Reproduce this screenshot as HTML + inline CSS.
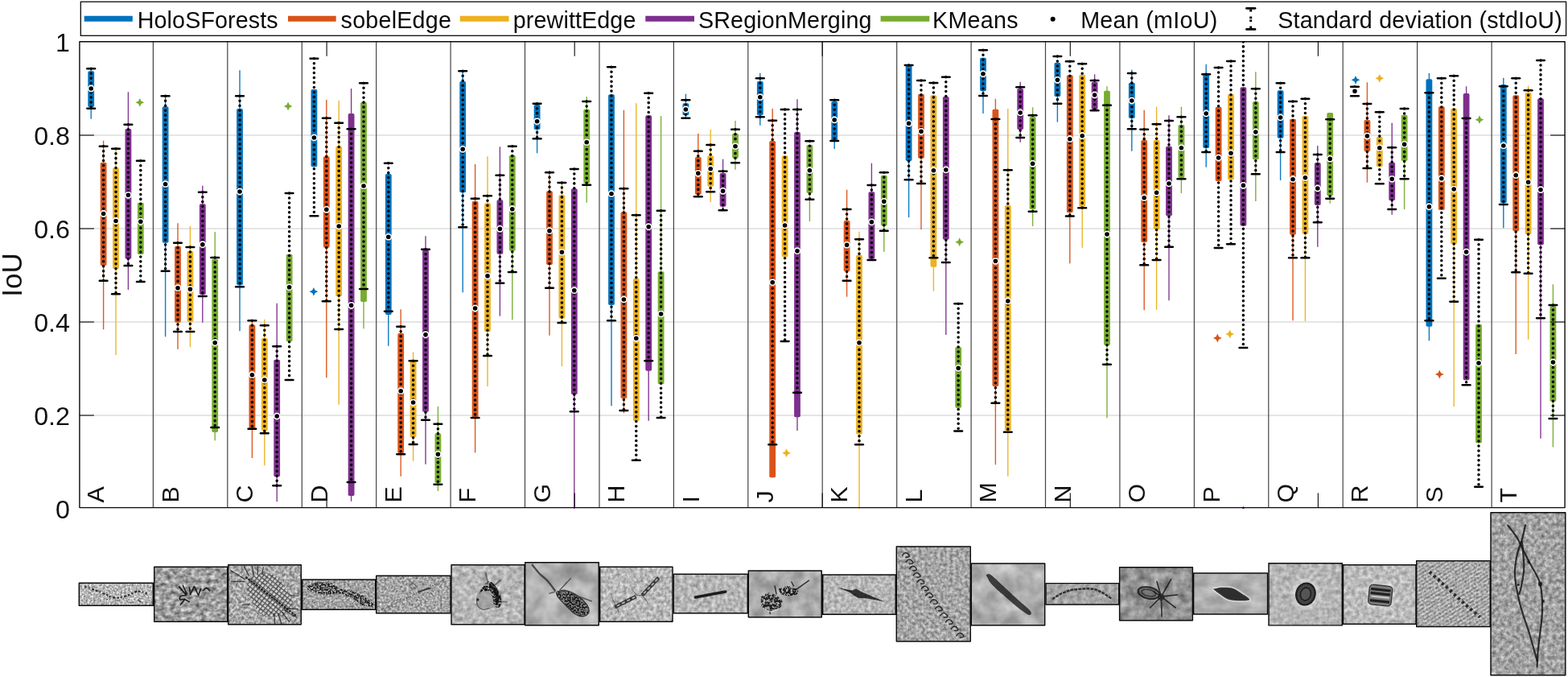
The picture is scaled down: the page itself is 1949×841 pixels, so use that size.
<!DOCTYPE html>
<html lang="en"><head><meta charset="utf-8"><title>IoU box plot</title>
<style>html,body{margin:0;padding:0;background:#fff}body{width:1949px;height:841px;overflow:hidden}svg{display:block}</style>
</head><body>
<svg width="1949" height="841" viewBox="0 0 1949 841" font-family='"Liberation Sans", sans-serif'>
<rect width="1949" height="841" fill="#fff"/>
<defs>
<filter id="nA" x="0" y="0" width="1" height="1" color-interpolation-filters="sRGB"><feTurbulence type="fractalNoise" baseFrequency="0.42 0.42" numOctaves="2" seed="3" result="t"/><feColorMatrix in="t" type="matrix" values="0.85 0 0 0 0.289  0.85 0 0 0 0.289  0.85 0 0 0 0.289  0 0 0 0 1"/></filter>
<filter id="nB" x="0" y="0" width="1" height="1" color-interpolation-filters="sRGB"><feTurbulence type="fractalNoise" baseFrequency="0.16 0.2" numOctaves="2" seed="11" result="t"/><feColorMatrix in="t" type="matrix" values="0.85 0 0 0 0.195  0.85 0 0 0 0.195  0.85 0 0 0 0.195  0 0 0 0 1"/></filter>
<filter id="nC" x="0" y="0" width="1" height="1" color-interpolation-filters="sRGB"><feTurbulence type="fractalNoise" baseFrequency="0.3 0.3" numOctaves="2" seed="5" result="t"/><feColorMatrix in="t" type="matrix" values="0.8 0 0 0 0.259  0.8 0 0 0 0.259  0.8 0 0 0 0.259  0 0 0 0 1"/></filter>
<filter id="nD" x="0" y="0" width="1" height="1" color-interpolation-filters="sRGB"><feTurbulence type="fractalNoise" baseFrequency="0.4 0.4" numOctaves="2" seed="8" result="t"/><feColorMatrix in="t" type="matrix" values="0.8 0 0 0 0.235  0.8 0 0 0 0.235  0.8 0 0 0 0.235  0 0 0 0 1"/></filter>
<filter id="nE" x="0" y="0" width="1" height="1" color-interpolation-filters="sRGB"><feTurbulence type="fractalNoise" baseFrequency="0.36 0.36" numOctaves="2" seed="21" result="t"/><feColorMatrix in="t" type="matrix" values="0.8 0 0 0 0.247  0.8 0 0 0 0.247  0.8 0 0 0 0.247  0 0 0 0 1"/></filter>
<filter id="nF" x="0" y="0" width="1" height="1" color-interpolation-filters="sRGB"><feTurbulence type="fractalNoise" baseFrequency="0.16 0.18" numOctaves="2" seed="2" result="t"/><feColorMatrix in="t" type="matrix" values="0.5 0 0 0 0.464  0.5 0 0 0 0.464  0.5 0 0 0 0.464  0 0 0 0 1"/></filter>
<filter id="nG" x="0" y="0" width="1" height="1" color-interpolation-filters="sRGB"><feTurbulence type="fractalNoise" baseFrequency="0.04 0.04" numOctaves="3" seed="7" result="t"/><feColorMatrix in="t" type="matrix" values="0.42 0 0 0 0.480  0.42 0 0 0 0.480  0.42 0 0 0 0.480  0 0 0 0 1"/></filter>
<filter id="nH" x="0" y="0" width="1" height="1" color-interpolation-filters="sRGB"><feTurbulence type="fractalNoise" baseFrequency="0.24 0.24" numOctaves="2" seed="9" result="t"/><feColorMatrix in="t" type="matrix" values="0.6 0 0 0 0.422  0.6 0 0 0 0.422  0.6 0 0 0 0.422  0 0 0 0 1"/></filter>
<filter id="nI" x="0" y="0" width="1" height="1" color-interpolation-filters="sRGB"><feTurbulence type="fractalNoise" baseFrequency="0.2 0.2" numOctaves="2" seed="13" result="t"/><feColorMatrix in="t" type="matrix" values="0.5 0 0 0 0.464  0.5 0 0 0 0.464  0.5 0 0 0 0.464  0 0 0 0 1"/></filter>
<filter id="nJ" x="0" y="0" width="1" height="1" color-interpolation-filters="sRGB"><feTurbulence type="fractalNoise" baseFrequency="0.06 0.06" numOctaves="3" seed="17" result="t"/><feColorMatrix in="t" type="matrix" values="0.38 0 0 0 0.485  0.38 0 0 0 0.485  0.38 0 0 0 0.485  0 0 0 0 1"/></filter>
<filter id="nK" x="0" y="0" width="1" height="1" color-interpolation-filters="sRGB"><feTurbulence type="fractalNoise" baseFrequency="0.24 0.24" numOctaves="2" seed="19" result="t"/><feColorMatrix in="t" type="matrix" values="0.5 0 0 0 0.464  0.5 0 0 0 0.464  0.5 0 0 0 0.464  0 0 0 0 1"/></filter>
<filter id="nL" x="0" y="0" width="1" height="1" color-interpolation-filters="sRGB"><feTurbulence type="fractalNoise" baseFrequency="0.26 0.26" numOctaves="2" seed="23" result="t"/><feColorMatrix in="t" type="matrix" values="0.62 0 0 0 0.337  0.62 0 0 0 0.337  0.62 0 0 0 0.337  0 0 0 0 1"/></filter>
<filter id="nM" x="0" y="0" width="1" height="1" color-interpolation-filters="sRGB"><feTurbulence type="fractalNoise" baseFrequency="0.05 0.05" numOctaves="3" seed="29" result="t"/><feColorMatrix in="t" type="matrix" values="0.4 0 0 0 0.490  0.4 0 0 0 0.490  0.4 0 0 0 0.490  0 0 0 0 1"/></filter>
<filter id="nN" x="0" y="0" width="1" height="1" color-interpolation-filters="sRGB"><feTurbulence type="fractalNoise" baseFrequency="0.18 0.18" numOctaves="2" seed="31" result="t"/><feColorMatrix in="t" type="matrix" values="0.42 0 0 0 0.437  0.42 0 0 0 0.437  0.42 0 0 0 0.437  0 0 0 0 1"/></filter>
<filter id="nO" x="0" y="0" width="1" height="1" color-interpolation-filters="sRGB"><feTurbulence type="fractalNoise" baseFrequency="0.09 0.09" numOctaves="3" seed="37" result="t"/><feColorMatrix in="t" type="matrix" values="0.5 0 0 0 0.323  0.5 0 0 0 0.323  0.5 0 0 0 0.323  0 0 0 0 1"/></filter>
<filter id="nP" x="0" y="0" width="1" height="1" color-interpolation-filters="sRGB"><feTurbulence type="fractalNoise" baseFrequency="0.04 0.07" numOctaves="3" seed="41" result="t"/><feColorMatrix in="t" type="matrix" values="0.32 0 0 0 0.515  0.32 0 0 0 0.515  0.32 0 0 0 0.515  0 0 0 0 1"/></filter>
<filter id="nQ" x="0" y="0" width="1" height="1" color-interpolation-filters="sRGB"><feTurbulence type="fractalNoise" baseFrequency="0.18 0.18" numOctaves="2" seed="43" result="t"/><feColorMatrix in="t" type="matrix" values="0.4 0 0 0 0.510  0.4 0 0 0 0.510  0.4 0 0 0 0.510  0 0 0 0 1"/></filter>
<filter id="nR" x="0" y="0" width="1" height="1" color-interpolation-filters="sRGB"><feTurbulence type="fractalNoise" baseFrequency="0.2 0.2" numOctaves="2" seed="47" result="t"/><feColorMatrix in="t" type="matrix" values="0.45 0 0 0 0.508  0.45 0 0 0 0.508  0.45 0 0 0 0.508  0 0 0 0 1"/></filter>
<filter id="nS" x="0" y="0" width="1" height="1" color-interpolation-filters="sRGB"><feTurbulence type="fractalNoise" baseFrequency="0.34 0.34" numOctaves="2" seed="53" result="t"/><feColorMatrix in="t" type="matrix" values="0.62 0 0 0 0.349  0.62 0 0 0 0.349  0.62 0 0 0 0.349  0 0 0 0 1"/></filter>
<filter id="nT" x="0" y="0" width="1" height="1" color-interpolation-filters="sRGB"><feTurbulence type="fractalNoise" baseFrequency="0.2 0.2" numOctaves="3" seed="59" result="t"/><feColorMatrix in="t" type="matrix" values="0.62 0 0 0 0.325  0.62 0 0 0 0.325  0.62 0 0 0 0.325  0 0 0 0 1"/></filter>
<filter id="spk" x="-0.1" y="-0.1" width="1.2" height="1.2" color-interpolation-filters="sRGB"><feTurbulence type="fractalNoise" baseFrequency="0.5" numOctaves="2" seed="4" result="t"/><feColorMatrix in="t" type="matrix" values="0 0 0 0 0  0 0 0 0 0  0 0 0 0 0  7 0 0 0 -3.0" result="m"/><feGaussianBlur in="SourceGraphic" stdDeviation="0.7" result="b"/><feComposite in="b" in2="m" operator="in"/></filter>
<filter id="spk2" x="-0.1" y="-0.1" width="1.2" height="1.2" color-interpolation-filters="sRGB"><feTurbulence type="fractalNoise" baseFrequency="0.35" numOctaves="2" seed="4" result="t"/><feColorMatrix in="t" type="matrix" values="0 0 0 0 0  0 0 0 0 0  0 0 0 0 0  6 0 0 0 -2.3" result="m"/><feGaussianBlur in="SourceGraphic" stdDeviation="0.5" result="b"/><feComposite in="b" in2="m" operator="in"/></filter>
<filter id="spk3" x="-0.1" y="-0.1" width="1.2" height="1.2" color-interpolation-filters="sRGB"><feTurbulence type="fractalNoise" baseFrequency="0.6" numOctaves="2" seed="4" result="t"/><feColorMatrix in="t" type="matrix" values="0 0 0 0 0  0 0 0 0 0  0 0 0 0 0  8 0 0 0 -3.7" result="m"/><feGaussianBlur in="SourceGraphic" stdDeviation="0.4" result="b"/><feComposite in="b" in2="m" operator="in"/></filter>
<filter id="bl0" x="-0.3" y="-0.3" width="1.6" height="1.6"><feGaussianBlur stdDeviation="0.35"/></filter>
<filter id="bl1" x="-0.3" y="-0.3" width="1.6" height="1.6"><feGaussianBlur stdDeviation="0.6"/></filter>
<filter id="bl2" x="-0.3" y="-0.3" width="1.6" height="1.6"><feGaussianBlur stdDeviation="1.5"/></filter>
<pattern id="stip" width="3.2" height="3.2" patternUnits="userSpaceOnUse" patternTransform="rotate(28)"><rect width="3.2" height="3.2" fill="#777"/><circle cx="1" cy="1" r="1.05" fill="#0a0a0a"/><circle cx="2.6" cy="2.4" r="0.7" fill="#ddd"/></pattern>
<pattern id="net" width="4.5" height="4.5" patternUnits="userSpaceOnUse" patternTransform="rotate(38)"><rect width="4.5" height="4.5" fill="#e6e6e6"/><path d="M0 0.7H4.5M0.7 0V4.5" stroke="#1c1c1c" stroke-width="1.35"/></pattern>
<pattern id="wave" width="4.2" height="4.2" patternUnits="userSpaceOnUse" patternTransform="rotate(-32)"><path d="M0 1H4.2" stroke="#fff" stroke-width="1.1" opacity="0.28"/><path d="M0 3.1H4.2" stroke="#000" stroke-width="1.1" opacity="0.16"/></pattern>
</defs>
<g stroke="#cccccc" stroke-width="1.2">
<line x1="98.9" y1="516.0" x2="1945.1" y2="516.0"/>
<line x1="98.9" y1="400.0" x2="1945.1" y2="400.0"/>
<line x1="98.9" y1="284.0" x2="1945.1" y2="284.0"/>
<line x1="98.9" y1="168.0" x2="1945.1" y2="168.0"/>
</g>
<g stroke="#444" stroke-width="1.2">
<line x1="190.4" y1="51.8" x2="190.4" y2="630.6"/>
<line x1="282.8" y1="51.8" x2="282.8" y2="630.6"/>
<line x1="375.3" y1="51.8" x2="375.3" y2="630.6"/>
<line x1="467.7" y1="51.8" x2="467.7" y2="630.6"/>
<line x1="560.1" y1="51.8" x2="560.1" y2="630.6"/>
<line x1="652.5" y1="51.8" x2="652.5" y2="630.6"/>
<line x1="745.0" y1="51.8" x2="745.0" y2="630.6"/>
<line x1="837.4" y1="51.8" x2="837.4" y2="630.6"/>
<line x1="929.8" y1="51.8" x2="929.8" y2="630.6"/>
<line x1="1022.2" y1="51.8" x2="1022.2" y2="630.6"/>
<line x1="1114.7" y1="51.8" x2="1114.7" y2="630.6"/>
<line x1="1207.1" y1="51.8" x2="1207.1" y2="630.6"/>
<line x1="1299.5" y1="51.8" x2="1299.5" y2="630.6"/>
<line x1="1391.9" y1="51.8" x2="1391.9" y2="630.6"/>
<line x1="1484.4" y1="51.8" x2="1484.4" y2="630.6"/>
<line x1="1576.8" y1="51.8" x2="1576.8" y2="630.6"/>
<line x1="1669.2" y1="51.8" x2="1669.2" y2="630.6"/>
<line x1="1761.6" y1="51.8" x2="1761.6" y2="630.6"/>
<line x1="1854.1" y1="51.8" x2="1854.1" y2="630.6"/>
</g>
<clipPath id="ax"><rect x="98.9" y="51.8" width="1846.1999999999998" height="580.3000000000001"/></clipPath>
<g clip-path="url(#ax)">
<g stroke-width="1.4" opacity="0.95"><line x1="113.2" y1="85.0" x2="113.2" y2="147.7" stroke="#0072BD"/><line x1="128.6" y1="174.7" x2="128.6" y2="409.3" stroke="#D95319"/><line x1="144.0" y1="183.0" x2="144.0" y2="441.0" stroke="#EDB120"/><line x1="159.4" y1="114.3" x2="159.4" y2="360.0" stroke="#7E2F8E"/><line x1="174.8" y1="251.7" x2="174.8" y2="316.0" stroke="#77AC30"/><line x1="205.6" y1="119.5" x2="205.6" y2="418.3" stroke="#0072BD"/><line x1="221.0" y1="277.3" x2="221.0" y2="433.7" stroke="#D95319"/><line x1="236.4" y1="281.0" x2="236.4" y2="431.3" stroke="#EDB120"/><line x1="251.8" y1="230.7" x2="251.8" y2="400.7" stroke="#7E2F8E"/><line x1="267.2" y1="288.0" x2="267.2" y2="547.3" stroke="#77AC30"/><line x1="298.0" y1="87.3" x2="298.0" y2="411.3" stroke="#0072BD"/><line x1="313.4" y1="398.0" x2="313.4" y2="569.0" stroke="#D95319"/><line x1="328.8" y1="396.7" x2="328.8" y2="578.3" stroke="#EDB120"/><line x1="344.2" y1="376.7" x2="344.2" y2="623.3" stroke="#7E2F8E"/><line x1="359.6" y1="315.7" x2="359.6" y2="424.3" stroke="#77AC30"/><line x1="390.4" y1="111.0" x2="390.4" y2="207.3" stroke="#0072BD"/><line x1="405.8" y1="124.0" x2="405.8" y2="469.3" stroke="#D95319"/><line x1="421.2" y1="125.0" x2="421.2" y2="502.7" stroke="#EDB120"/><line x1="436.6" y1="110.0" x2="436.6" y2="622.7" stroke="#7E2F8E"/><line x1="452.0" y1="126.7" x2="452.0" y2="408.3" stroke="#77AC30"/><line x1="482.8" y1="216.0" x2="482.8" y2="429.7" stroke="#0072BD"/><line x1="498.2" y1="384.3" x2="498.2" y2="591.7" stroke="#D95319"/><line x1="513.6" y1="437.3" x2="513.6" y2="572.7" stroke="#EDB120"/><line x1="529.0" y1="293.3" x2="529.0" y2="576.7" stroke="#7E2F8E"/><line x1="544.4" y1="505.0" x2="544.4" y2="610.0" stroke="#77AC30"/><line x1="575.2" y1="88.0" x2="575.2" y2="363.3" stroke="#0072BD"/><line x1="590.6" y1="204.0" x2="590.6" y2="562.3" stroke="#D95319"/><line x1="606.0" y1="194.3" x2="606.0" y2="480.0" stroke="#EDB120"/><line x1="621.4" y1="182.3" x2="621.4" y2="392.7" stroke="#7E2F8E"/><line x1="636.8" y1="192.7" x2="636.8" y2="397.3" stroke="#77AC30"/><line x1="667.6" y1="130.0" x2="667.6" y2="190.3" stroke="#0072BD"/><line x1="683.0" y1="212.0" x2="683.0" y2="416.7" stroke="#D95319"/><line x1="698.4" y1="227.0" x2="698.4" y2="455.0" stroke="#EDB120"/><line x1="713.8" y1="234.3" x2="713.8" y2="632.0" stroke="#7E2F8E"/><line x1="729.2" y1="120.0" x2="729.2" y2="251.7" stroke="#77AC30"/><line x1="760.0" y1="117.3" x2="760.0" y2="504.3" stroke="#0072BD"/><line x1="775.4" y1="136.7" x2="775.4" y2="513.3" stroke="#D95319"/><line x1="790.8" y1="128.3" x2="790.8" y2="523.0" stroke="#EDB120"/><line x1="806.2" y1="143.3" x2="806.2" y2="522.7" stroke="#7E2F8E"/><line x1="821.6" y1="144.0" x2="821.6" y2="477.3" stroke="#77AC30"/><line x1="852.4" y1="116.7" x2="852.4" y2="146.0" stroke="#0072BD"/><line x1="867.8" y1="166.0" x2="867.8" y2="244.0" stroke="#D95319"/><line x1="883.2" y1="161.0" x2="883.2" y2="251.0" stroke="#EDB120"/><line x1="898.6" y1="197.7" x2="898.6" y2="260.0" stroke="#7E2F8E"/><line x1="914.0" y1="150.0" x2="914.0" y2="210.7" stroke="#77AC30"/><line x1="944.8" y1="90.7" x2="944.8" y2="155.7" stroke="#0072BD"/><line x1="960.2" y1="135.0" x2="960.2" y2="593.3" stroke="#D95319"/><line x1="975.6" y1="193.3" x2="975.6" y2="319.3" stroke="#EDB120"/><line x1="991.0" y1="123.3" x2="991.0" y2="535.0" stroke="#7E2F8E"/><line x1="1006.4" y1="180.0" x2="1006.4" y2="275.0" stroke="#77AC30"/><line x1="1037.2" y1="126.0" x2="1037.2" y2="185.0" stroke="#0072BD"/><line x1="1052.6" y1="235.7" x2="1052.6" y2="368.7" stroke="#D95319"/><line x1="1068.0" y1="287.7" x2="1068.0" y2="633.0" stroke="#EDB120"/><line x1="1083.4" y1="202.7" x2="1083.4" y2="321.7" stroke="#7E2F8E"/><line x1="1098.8" y1="217.7" x2="1098.8" y2="312.7" stroke="#77AC30"/><line x1="1129.6" y1="81.0" x2="1129.6" y2="270.0" stroke="#0072BD"/><line x1="1145.0" y1="116.7" x2="1145.0" y2="285.0" stroke="#D95319"/><line x1="1160.4" y1="118.3" x2="1160.4" y2="361.7" stroke="#EDB120"/><line x1="1175.8" y1="120.0" x2="1175.8" y2="416.0" stroke="#7E2F8E"/><line x1="1191.2" y1="431.0" x2="1191.2" y2="506.7" stroke="#77AC30"/><line x1="1222.0" y1="71.7" x2="1222.0" y2="141.0" stroke="#0072BD"/><line x1="1237.4" y1="122.7" x2="1237.4" y2="577.3" stroke="#D95319"/><line x1="1252.8" y1="135.0" x2="1252.8" y2="591.7" stroke="#EDB120"/><line x1="1268.2" y1="101.7" x2="1268.2" y2="176.7" stroke="#7E2F8E"/><line x1="1283.6" y1="133.3" x2="1283.6" y2="281.0" stroke="#77AC30"/><line x1="1314.4" y1="77.7" x2="1314.4" y2="151.7" stroke="#0072BD"/><line x1="1329.8" y1="93.3" x2="1329.8" y2="327.3" stroke="#D95319"/><line x1="1345.2" y1="92.7" x2="1345.2" y2="307.7" stroke="#EDB120"/><line x1="1360.6" y1="92.3" x2="1360.6" y2="137.0" stroke="#7E2F8E"/><line x1="1376.0" y1="107.3" x2="1376.0" y2="519.3" stroke="#77AC30"/><line x1="1406.8" y1="86.7" x2="1406.8" y2="187.7" stroke="#0072BD"/><line x1="1422.2" y1="136.7" x2="1422.2" y2="385.3" stroke="#D95319"/><line x1="1437.6" y1="132.7" x2="1437.6" y2="385.0" stroke="#EDB120"/><line x1="1453.0" y1="143.3" x2="1453.0" y2="373.3" stroke="#7E2F8E"/><line x1="1468.4" y1="132.7" x2="1468.4" y2="240.0" stroke="#77AC30"/><line x1="1499.2" y1="80.0" x2="1499.2" y2="207.7" stroke="#0072BD"/><line x1="1514.6" y1="132.7" x2="1514.6" y2="225.0" stroke="#D95319"/><line x1="1530.0" y1="116.7" x2="1530.0" y2="223.3" stroke="#EDB120"/><line x1="1545.4" y1="108.3" x2="1545.4" y2="280.7" stroke="#7E2F8E"/><line x1="1560.8" y1="89.3" x2="1560.8" y2="250.0" stroke="#77AC30"/><line x1="1591.6" y1="112.3" x2="1591.6" y2="224.0" stroke="#0072BD"/><line x1="1607.0" y1="147.7" x2="1607.0" y2="398.3" stroke="#D95319"/><line x1="1622.4" y1="144.0" x2="1622.4" y2="399.0" stroke="#EDB120"/><line x1="1637.8" y1="181.0" x2="1637.8" y2="306.7" stroke="#7E2F8E"/><line x1="1653.2" y1="140.0" x2="1653.2" y2="252.7" stroke="#77AC30"/><line x1="1684.0" y1="111.0" x2="1684.0" y2="116.0" stroke="#0072BD"/><line x1="1699.4" y1="102.3" x2="1699.4" y2="226.7" stroke="#D95319"/><line x1="1714.8" y1="170.0" x2="1714.8" y2="207.3" stroke="#EDB120"/><line x1="1730.2" y1="152.7" x2="1730.2" y2="266.7" stroke="#7E2F8E"/><line x1="1745.6" y1="142.7" x2="1745.6" y2="260.0" stroke="#77AC30"/><line x1="1776.4" y1="91.0" x2="1776.4" y2="423.3" stroke="#0072BD"/><line x1="1791.8" y1="132.3" x2="1791.8" y2="261.0" stroke="#D95319"/><line x1="1807.2" y1="134.7" x2="1807.2" y2="505.0" stroke="#EDB120"/><line x1="1822.6" y1="107.3" x2="1822.6" y2="472.3" stroke="#7E2F8E"/><line x1="1838.0" y1="402.7" x2="1838.0" y2="550.5" stroke="#77AC30"/><line x1="1868.8" y1="96.7" x2="1868.8" y2="283.3" stroke="#0072BD"/><line x1="1884.2" y1="118.3" x2="1884.2" y2="440.0" stroke="#D95319"/><line x1="1899.6" y1="106.7" x2="1899.6" y2="421.7" stroke="#EDB120"/><line x1="1915.0" y1="122.3" x2="1915.0" y2="544.8" stroke="#7E2F8E"/><line x1="1930.4" y1="353.3" x2="1930.4" y2="555.5" stroke="#77AC30"/></g>
<g><rect x="109.3" y="88.3" width="7.8" height="44.7" rx="1.8" fill="#0072BD"/><rect x="124.7" y="201.7" width="7.8" height="128.3" rx="1.8" fill="#D95319"/><rect x="140.1" y="208.3" width="7.8" height="125.7" rx="1.8" fill="#EDB120"/><rect x="155.5" y="160.0" width="7.8" height="161.7" rx="1.8" fill="#7E2F8E"/><rect x="170.9" y="251.7" width="7.8" height="64.3" rx="1.8" fill="#77AC30"/><rect x="201.7" y="132.3" width="7.8" height="169.4" rx="1.8" fill="#0072BD"/><rect x="217.1" y="305.7" width="7.8" height="95.0" rx="1.8" fill="#D95319"/><rect x="232.5" y="311.7" width="7.8" height="88.3" rx="1.8" fill="#EDB120"/><rect x="247.9" y="253.3" width="7.8" height="112.7" rx="1.8" fill="#7E2F8E"/><rect x="263.3" y="321.7" width="7.8" height="215.3" rx="1.8" fill="#77AC30"/><rect x="294.1" y="135.0" width="7.8" height="219.3" rx="1.8" fill="#0072BD"/><rect x="309.5" y="403.3" width="7.8" height="129.2" rx="1.8" fill="#D95319"/><rect x="324.9" y="420.0" width="7.8" height="115.0" rx="1.8" fill="#EDB120"/><rect x="340.3" y="446.7" width="7.8" height="145.6" rx="1.8" fill="#7E2F8E"/><rect x="355.7" y="315.7" width="7.8" height="108.6" rx="1.8" fill="#77AC30"/><rect x="386.5" y="111.0" width="7.8" height="96.3" rx="1.8" fill="#0072BD"/><rect x="401.9" y="194.3" width="7.8" height="113.4" rx="1.8" fill="#D95319"/><rect x="417.3" y="181.7" width="7.8" height="186.6" rx="1.8" fill="#EDB120"/><rect x="432.7" y="141.0" width="7.8" height="475.0" rx="1.8" fill="#7E2F8E"/><rect x="448.1" y="126.7" width="7.8" height="248.3" rx="1.8" fill="#77AC30"/><rect x="478.9" y="216.0" width="7.8" height="175.0" rx="1.8" fill="#0072BD"/><rect x="494.3" y="414.0" width="7.8" height="149.3" rx="1.8" fill="#D95319"/><rect x="509.7" y="448.3" width="7.8" height="95.0" rx="1.8" fill="#EDB120"/><rect x="525.1" y="310.0" width="7.8" height="201.7" rx="1.8" fill="#7E2F8E"/><rect x="540.5" y="538.3" width="7.8" height="61.7" rx="1.8" fill="#77AC30"/><rect x="571.3" y="101.0" width="7.8" height="138.3" rx="1.8" fill="#0072BD"/><rect x="586.7" y="250.0" width="7.8" height="268.3" rx="1.8" fill="#D95319"/><rect x="602.1" y="252.3" width="7.8" height="160.0" rx="1.8" fill="#EDB120"/><rect x="617.5" y="248.3" width="7.8" height="67.4" rx="1.8" fill="#7E2F8E"/><rect x="632.9" y="192.7" width="7.8" height="119.0" rx="1.8" fill="#77AC30"/><rect x="663.7" y="130.0" width="7.8" height="31.0" rx="1.8" fill="#0072BD"/><rect x="679.1" y="237.3" width="7.8" height="91.7" rx="1.8" fill="#D95319"/><rect x="694.5" y="242.3" width="7.8" height="153.4" rx="1.8" fill="#EDB120"/><rect x="709.9" y="234.3" width="7.8" height="255.7" rx="1.8" fill="#7E2F8E"/><rect x="725.3" y="135.7" width="7.8" height="92.0" rx="1.8" fill="#77AC30"/><rect x="756.1" y="117.3" width="7.8" height="261.7" rx="1.8" fill="#0072BD"/><rect x="771.5" y="263.3" width="7.8" height="231.7" rx="1.8" fill="#D95319"/><rect x="786.9" y="346.0" width="7.8" height="177.0" rx="1.8" fill="#EDB120"/><rect x="802.3" y="143.3" width="7.8" height="317.4" rx="1.8" fill="#7E2F8E"/><rect x="817.7" y="337.3" width="7.8" height="140.0" rx="1.8" fill="#77AC30"/><rect x="848.5" y="128.3" width="7.8" height="15.0" rx="1.8" fill="#0072BD"/><rect x="863.9" y="195.0" width="7.8" height="46.7" rx="1.8" fill="#D95319"/><rect x="879.3" y="193.3" width="7.8" height="38.4" rx="1.8" fill="#EDB120"/><rect x="894.7" y="215.0" width="7.8" height="41.7" rx="1.8" fill="#7E2F8E"/><rect x="910.1" y="165.7" width="7.8" height="31.0" rx="1.8" fill="#77AC30"/><rect x="940.9" y="101.0" width="7.8" height="42.3" rx="1.8" fill="#0072BD"/><rect x="956.3" y="175.0" width="7.8" height="418.3" rx="1.8" fill="#D95319"/><rect x="971.7" y="193.3" width="7.8" height="126.0" rx="1.8" fill="#EDB120"/><rect x="987.1" y="164.0" width="7.8" height="354.3" rx="1.8" fill="#7E2F8E"/><rect x="1002.5" y="180.0" width="7.8" height="60.0" rx="1.8" fill="#77AC30"/><rect x="1033.3" y="126.0" width="7.8" height="49.0" rx="1.8" fill="#0072BD"/><rect x="1048.7" y="274.0" width="7.8" height="63.3" rx="1.8" fill="#D95319"/><rect x="1064.1" y="316.7" width="7.8" height="222.8" rx="1.8" fill="#EDB120"/><rect x="1079.5" y="238.3" width="7.8" height="83.4" rx="1.8" fill="#7E2F8E"/><rect x="1094.9" y="217.7" width="7.8" height="63.0" rx="1.8" fill="#77AC30"/><rect x="1125.7" y="81.0" width="7.8" height="119.0" rx="1.8" fill="#0072BD"/><rect x="1141.1" y="116.7" width="7.8" height="80.0" rx="1.8" fill="#D95319"/><rect x="1156.5" y="118.3" width="7.8" height="213.4" rx="1.8" fill="#EDB120"/><rect x="1171.9" y="120.0" width="7.8" height="177.7" rx="1.8" fill="#7E2F8E"/><rect x="1187.3" y="431.0" width="7.8" height="75.7" rx="1.8" fill="#77AC30"/><rect x="1218.1" y="71.7" width="7.8" height="41.6" rx="1.8" fill="#0072BD"/><rect x="1233.5" y="135.7" width="7.8" height="344.3" rx="1.8" fill="#D95319"/><rect x="1248.9" y="255.0" width="7.8" height="280.0" rx="1.8" fill="#EDB120"/><rect x="1264.3" y="110.0" width="7.8" height="51.0" rx="1.8" fill="#7E2F8E"/><rect x="1279.7" y="145.0" width="7.8" height="115.0" rx="1.8" fill="#77AC30"/><rect x="1310.5" y="77.7" width="7.8" height="42.3" rx="1.8" fill="#0072BD"/><rect x="1325.9" y="93.3" width="7.8" height="171.0" rx="1.8" fill="#D95319"/><rect x="1341.3" y="92.7" width="7.8" height="164.0" rx="1.8" fill="#EDB120"/><rect x="1356.7" y="101.7" width="7.8" height="34.3" rx="1.8" fill="#7E2F8E"/><rect x="1372.1" y="112.7" width="7.8" height="316.3" rx="1.8" fill="#77AC30"/><rect x="1402.9" y="102.7" width="7.8" height="44.3" rx="1.8" fill="#0072BD"/><rect x="1418.3" y="174.0" width="7.8" height="127.0" rx="1.8" fill="#D95319"/><rect x="1433.7" y="174.0" width="7.8" height="111.0" rx="1.8" fill="#EDB120"/><rect x="1449.1" y="181.7" width="7.8" height="86.6" rx="1.8" fill="#7E2F8E"/><rect x="1464.5" y="155.0" width="7.8" height="66.0" rx="1.8" fill="#77AC30"/><rect x="1495.3" y="91.7" width="7.8" height="92.3" rx="1.8" fill="#0072BD"/><rect x="1510.7" y="132.7" width="7.8" height="92.3" rx="1.8" fill="#D95319"/><rect x="1526.1" y="116.7" width="7.8" height="106.6" rx="1.8" fill="#EDB120"/><rect x="1541.5" y="108.3" width="7.8" height="172.4" rx="1.8" fill="#7E2F8E"/><rect x="1556.9" y="126.0" width="7.8" height="72.3" rx="1.8" fill="#77AC30"/><rect x="1587.7" y="112.3" width="7.8" height="59.4" rx="1.8" fill="#0072BD"/><rect x="1603.1" y="147.7" width="7.8" height="144.0" rx="1.8" fill="#D95319"/><rect x="1618.5" y="144.0" width="7.8" height="146.7" rx="1.8" fill="#EDB120"/><rect x="1633.9" y="202.0" width="7.8" height="53.0" rx="1.8" fill="#7E2F8E"/><rect x="1649.3" y="140.0" width="7.8" height="103.3" rx="1.8" fill="#77AC30"/><rect x="1680.1" y="111.0" width="7.8" height="5.0" rx="1.8" fill="#0072BD"/><rect x="1695.5" y="149.0" width="7.8" height="39.3" rx="1.8" fill="#D95319"/><rect x="1710.9" y="170.0" width="7.8" height="37.3" rx="1.8" fill="#EDB120"/><rect x="1726.3" y="201.7" width="7.8" height="47.3" rx="1.8" fill="#7E2F8E"/><rect x="1741.7" y="142.7" width="7.8" height="57.3" rx="1.8" fill="#77AC30"/><rect x="1772.5" y="98.3" width="7.8" height="307.4" rx="1.8" fill="#0072BD"/><rect x="1787.9" y="132.3" width="7.8" height="128.7" rx="1.8" fill="#D95319"/><rect x="1803.3" y="134.7" width="7.8" height="168.6" rx="1.8" fill="#EDB120"/><rect x="1818.7" y="116.0" width="7.8" height="356.3" rx="1.8" fill="#7E2F8E"/><rect x="1834.1" y="402.7" width="7.8" height="147.8" rx="1.8" fill="#77AC30"/><rect x="1864.9" y="105.0" width="7.8" height="147.3" rx="1.8" fill="#0072BD"/><rect x="1880.3" y="118.3" width="7.8" height="169.0" rx="1.8" fill="#D95319"/><rect x="1895.7" y="115.0" width="7.8" height="176.0" rx="1.8" fill="#EDB120"/><rect x="1911.1" y="122.3" width="7.8" height="182.0" rx="1.8" fill="#7E2F8E"/><rect x="1926.5" y="380.0" width="7.8" height="119.0" rx="1.8" fill="#77AC30"/></g>
<g stroke="#000" stroke-width="3.55" stroke-dasharray="0.01 5.95" stroke-linecap="round"><line x1="113.2" y1="85.3" x2="113.2" y2="134.7"/><line x1="128.6" y1="181.7" x2="128.6" y2="348.7"/><line x1="144.0" y1="184.7" x2="144.0" y2="365.3"/><line x1="159.4" y1="154.7" x2="159.4" y2="330.0"/><line x1="174.8" y1="199.7" x2="174.8" y2="350.0"/><line x1="205.6" y1="119.3" x2="205.6" y2="336.7"/><line x1="221.0" y1="301.7" x2="221.0" y2="412.0"/><line x1="236.4" y1="307.0" x2="236.4" y2="412.0"/><line x1="251.8" y1="238.7" x2="251.8" y2="368.0"/><line x1="267.2" y1="320.0" x2="267.2" y2="531.0"/><line x1="298.0" y1="119.3" x2="298.0" y2="356.3"/><line x1="313.4" y1="398.3" x2="313.4" y2="532.7"/><line x1="328.8" y1="404.3" x2="328.8" y2="538.3"/><line x1="344.2" y1="430.3" x2="344.2" y2="603.3"/><line x1="359.6" y1="240.0" x2="359.6" y2="472.0"/><line x1="390.4" y1="72.7" x2="390.4" y2="268.3"/><line x1="405.8" y1="146.7" x2="405.8" y2="374.3"/><line x1="421.2" y1="152.7" x2="421.2" y2="409.0"/><line x1="436.6" y1="160.3" x2="436.6" y2="599.0"/><line x1="452.0" y1="103.3" x2="452.0" y2="359.0"/><line x1="482.8" y1="202.7" x2="482.8" y2="386.7"/><line x1="498.2" y1="405.7" x2="498.2" y2="564.3"/><line x1="513.6" y1="448.3" x2="513.6" y2="552.0"/><line x1="529.0" y1="309.7" x2="529.0" y2="521.7"/><line x1="544.4" y1="526.7" x2="544.4" y2="601.7"/><line x1="575.2" y1="88.3" x2="575.2" y2="282.3"/><line x1="590.6" y1="246.7" x2="590.6" y2="519.0"/><line x1="606.0" y1="243.3" x2="606.0" y2="442.0"/><line x1="621.4" y1="217.7" x2="621.4" y2="351.7"/><line x1="636.8" y1="181.7" x2="636.8" y2="338.0"/><line x1="667.6" y1="128.7" x2="667.6" y2="172.3"/><line x1="683.0" y1="214.3" x2="683.0" y2="357.7"/><line x1="698.4" y1="227.0" x2="698.4" y2="401.0"/><line x1="713.8" y1="210.0" x2="713.8" y2="511.3"/><line x1="729.2" y1="126.0" x2="729.2" y2="229.7"/><line x1="760.0" y1="83.3" x2="760.0" y2="398.3"/><line x1="775.4" y1="234.3" x2="775.4" y2="510.0"/><line x1="790.8" y1="267.3" x2="790.8" y2="571.7"/><line x1="806.2" y1="115.7" x2="806.2" y2="448.3"/><line x1="821.6" y1="261.7" x2="821.6" y2="519.0"/><line x1="852.4" y1="124.3" x2="852.4" y2="146.7"/><line x1="867.8" y1="187.7" x2="867.8" y2="244.3"/><line x1="883.2" y1="180.0" x2="883.2" y2="238.3"/><line x1="898.6" y1="212.7" x2="898.6" y2="261.3"/><line x1="914.0" y1="160.7" x2="914.0" y2="202.3"/><line x1="944.8" y1="97.3" x2="944.8" y2="145.3"/><line x1="960.2" y1="149.7" x2="960.2" y2="552.3"/><line x1="975.6" y1="136.0" x2="975.6" y2="424.0"/><line x1="991.0" y1="136.0" x2="991.0" y2="487.7"/><line x1="1006.4" y1="175.3" x2="1006.4" y2="247.7"/><line x1="1037.2" y1="124.3" x2="1037.2" y2="175.0"/><line x1="1052.6" y1="260.0" x2="1052.6" y2="348.7"/><line x1="1068.0" y1="297.3" x2="1068.0" y2="552.3"/><line x1="1083.4" y1="230.0" x2="1083.4" y2="323.0"/><line x1="1098.8" y1="214.3" x2="1098.8" y2="286.7"/><line x1="1129.6" y1="81.0" x2="1129.6" y2="223.3"/><line x1="1145.0" y1="100.0" x2="1145.0" y2="228.0"/><line x1="1160.4" y1="103.0" x2="1160.4" y2="320.3"/><line x1="1175.8" y1="95.7" x2="1175.8" y2="326.0"/><line x1="1191.2" y1="377.3" x2="1191.2" y2="535.5"/><line x1="1222.0" y1="62.3" x2="1222.0" y2="119.0"/><line x1="1237.4" y1="148.0" x2="1237.4" y2="500.7"/><line x1="1252.8" y1="211.3" x2="1252.8" y2="536.7"/><line x1="1268.2" y1="108.3" x2="1268.2" y2="171.0"/><line x1="1283.6" y1="143.3" x2="1283.6" y2="262.7"/><line x1="1314.4" y1="70.0" x2="1314.4" y2="128.7"/><line x1="1329.8" y1="76.3" x2="1329.8" y2="268.5"/><line x1="1345.2" y1="79.3" x2="1345.2" y2="258.3"/><line x1="1360.6" y1="100.0" x2="1360.6" y2="137.3"/><line x1="1376.0" y1="130.7" x2="1376.0" y2="452.7"/><line x1="1406.8" y1="91.0" x2="1406.8" y2="160.3"/><line x1="1422.2" y1="160.7" x2="1422.2" y2="329.3"/><line x1="1437.6" y1="154.3" x2="1437.6" y2="323.0"/><line x1="1453.0" y1="150.0" x2="1453.0" y2="306.7"/><line x1="1468.4" y1="145.3" x2="1468.4" y2="222.3"/><line x1="1499.2" y1="92.3" x2="1499.2" y2="189.0"/><line x1="1514.6" y1="84.0" x2="1514.6" y2="308.0"/><line x1="1530.0" y1="76.0" x2="1530.0" y2="303.3"/><line x1="1545.4" y1="40.0" x2="1545.4" y2="432.0"/><line x1="1560.8" y1="110.3" x2="1560.8" y2="216.3"/><line x1="1591.6" y1="103.3" x2="1591.6" y2="189.0"/><line x1="1607.0" y1="126.0" x2="1607.0" y2="320.3"/><line x1="1622.4" y1="122.7" x2="1622.4" y2="320.3"/><line x1="1637.8" y1="192.0" x2="1637.8" y2="276.3"/><line x1="1653.2" y1="148.3" x2="1653.2" y2="246.7"/><line x1="1684.0" y1="107.7" x2="1684.0" y2="119.3"/><line x1="1699.4" y1="129.0" x2="1699.4" y2="209.0"/><line x1="1714.8" y1="139.3" x2="1714.8" y2="228.3"/><line x1="1730.2" y1="183.3" x2="1730.2" y2="260.0"/><line x1="1745.6" y1="135.0" x2="1745.6" y2="222.3"/><line x1="1776.4" y1="115.3" x2="1776.4" y2="398.3"/><line x1="1791.8" y1="97.3" x2="1791.8" y2="345.7"/><line x1="1807.2" y1="94.3" x2="1807.2" y2="374.7"/><line x1="1822.6" y1="147.0" x2="1822.6" y2="478.3"/><line x1="1838.0" y1="297.7" x2="1838.0" y2="604.8"/><line x1="1868.8" y1="107.3" x2="1868.8" y2="254.0"/><line x1="1884.2" y1="97.3" x2="1884.2" y2="338.3"/><line x1="1899.6" y1="112.3" x2="1899.6" y2="339.7"/><line x1="1915.0" y1="75.0" x2="1915.0" y2="395.3"/><line x1="1930.4" y1="379.0" x2="1930.4" y2="520.0"/></g>
<g stroke="#000" stroke-width="2.6" stroke-linecap="round"><line x1="108.4" y1="85.3" x2="118.0" y2="85.3"/><line x1="108.4" y1="134.7" x2="118.0" y2="134.7"/><line x1="123.8" y1="181.7" x2="133.4" y2="181.7"/><line x1="123.8" y1="348.7" x2="133.4" y2="348.7"/><line x1="139.2" y1="184.7" x2="148.8" y2="184.7"/><line x1="139.2" y1="365.3" x2="148.8" y2="365.3"/><line x1="154.6" y1="154.7" x2="164.2" y2="154.7"/><line x1="154.6" y1="330.0" x2="164.2" y2="330.0"/><line x1="170.0" y1="199.7" x2="179.6" y2="199.7"/><line x1="170.0" y1="350.0" x2="179.6" y2="350.0"/><line x1="200.8" y1="119.3" x2="210.4" y2="119.3"/><line x1="200.8" y1="336.7" x2="210.4" y2="336.7"/><line x1="216.2" y1="301.7" x2="225.8" y2="301.7"/><line x1="216.2" y1="412.0" x2="225.8" y2="412.0"/><line x1="231.6" y1="307.0" x2="241.2" y2="307.0"/><line x1="231.6" y1="412.0" x2="241.2" y2="412.0"/><line x1="247.0" y1="238.7" x2="256.6" y2="238.7"/><line x1="247.0" y1="368.0" x2="256.6" y2="368.0"/><line x1="262.4" y1="320.0" x2="272.0" y2="320.0"/><line x1="262.4" y1="531.0" x2="272.0" y2="531.0"/><line x1="293.2" y1="119.3" x2="302.8" y2="119.3"/><line x1="293.2" y1="356.3" x2="302.8" y2="356.3"/><line x1="308.6" y1="398.3" x2="318.2" y2="398.3"/><line x1="308.6" y1="532.7" x2="318.2" y2="532.7"/><line x1="324.0" y1="404.3" x2="333.6" y2="404.3"/><line x1="324.0" y1="538.3" x2="333.6" y2="538.3"/><line x1="339.4" y1="430.3" x2="349.0" y2="430.3"/><line x1="339.4" y1="603.3" x2="349.0" y2="603.3"/><line x1="354.8" y1="240.0" x2="364.4" y2="240.0"/><line x1="354.8" y1="472.0" x2="364.4" y2="472.0"/><line x1="385.6" y1="72.7" x2="395.2" y2="72.7"/><line x1="385.6" y1="268.3" x2="395.2" y2="268.3"/><line x1="401.0" y1="146.7" x2="410.6" y2="146.7"/><line x1="401.0" y1="374.3" x2="410.6" y2="374.3"/><line x1="416.4" y1="152.7" x2="426.0" y2="152.7"/><line x1="416.4" y1="409.0" x2="426.0" y2="409.0"/><line x1="431.8" y1="160.3" x2="441.4" y2="160.3"/><line x1="431.8" y1="599.0" x2="441.4" y2="599.0"/><line x1="447.2" y1="103.3" x2="456.8" y2="103.3"/><line x1="447.2" y1="359.0" x2="456.8" y2="359.0"/><line x1="478.0" y1="202.7" x2="487.6" y2="202.7"/><line x1="478.0" y1="386.7" x2="487.6" y2="386.7"/><line x1="493.4" y1="405.7" x2="503.0" y2="405.7"/><line x1="493.4" y1="564.3" x2="503.0" y2="564.3"/><line x1="508.8" y1="448.3" x2="518.4" y2="448.3"/><line x1="508.8" y1="552.0" x2="518.4" y2="552.0"/><line x1="524.2" y1="309.7" x2="533.8" y2="309.7"/><line x1="524.2" y1="521.7" x2="533.8" y2="521.7"/><line x1="539.6" y1="526.7" x2="549.2" y2="526.7"/><line x1="539.6" y1="601.7" x2="549.2" y2="601.7"/><line x1="570.4" y1="88.3" x2="580.0" y2="88.3"/><line x1="570.4" y1="282.3" x2="580.0" y2="282.3"/><line x1="585.8" y1="246.7" x2="595.4" y2="246.7"/><line x1="585.8" y1="519.0" x2="595.4" y2="519.0"/><line x1="601.2" y1="243.3" x2="610.8" y2="243.3"/><line x1="601.2" y1="442.0" x2="610.8" y2="442.0"/><line x1="616.6" y1="217.7" x2="626.2" y2="217.7"/><line x1="616.6" y1="351.7" x2="626.2" y2="351.7"/><line x1="632.0" y1="181.7" x2="641.6" y2="181.7"/><line x1="632.0" y1="338.0" x2="641.6" y2="338.0"/><line x1="662.8" y1="128.7" x2="672.4" y2="128.7"/><line x1="662.8" y1="172.3" x2="672.4" y2="172.3"/><line x1="678.2" y1="214.3" x2="687.8" y2="214.3"/><line x1="678.2" y1="357.7" x2="687.8" y2="357.7"/><line x1="693.6" y1="227.0" x2="703.2" y2="227.0"/><line x1="693.6" y1="401.0" x2="703.2" y2="401.0"/><line x1="709.0" y1="210.0" x2="718.6" y2="210.0"/><line x1="709.0" y1="511.3" x2="718.6" y2="511.3"/><line x1="724.4" y1="126.0" x2="734.0" y2="126.0"/><line x1="724.4" y1="229.7" x2="734.0" y2="229.7"/><line x1="755.2" y1="83.3" x2="764.8" y2="83.3"/><line x1="755.2" y1="398.3" x2="764.8" y2="398.3"/><line x1="770.6" y1="234.3" x2="780.2" y2="234.3"/><line x1="770.6" y1="510.0" x2="780.2" y2="510.0"/><line x1="786.0" y1="267.3" x2="795.6" y2="267.3"/><line x1="786.0" y1="571.7" x2="795.6" y2="571.7"/><line x1="801.4" y1="115.7" x2="811.0" y2="115.7"/><line x1="801.4" y1="448.3" x2="811.0" y2="448.3"/><line x1="816.8" y1="261.7" x2="826.4" y2="261.7"/><line x1="816.8" y1="519.0" x2="826.4" y2="519.0"/><line x1="847.6" y1="124.3" x2="857.2" y2="124.3"/><line x1="847.6" y1="146.7" x2="857.2" y2="146.7"/><line x1="863.0" y1="187.7" x2="872.6" y2="187.7"/><line x1="863.0" y1="244.3" x2="872.6" y2="244.3"/><line x1="878.4" y1="180.0" x2="888.0" y2="180.0"/><line x1="878.4" y1="238.3" x2="888.0" y2="238.3"/><line x1="893.8" y1="212.7" x2="903.4" y2="212.7"/><line x1="893.8" y1="261.3" x2="903.4" y2="261.3"/><line x1="909.2" y1="160.7" x2="918.8" y2="160.7"/><line x1="909.2" y1="202.3" x2="918.8" y2="202.3"/><line x1="940.0" y1="97.3" x2="949.6" y2="97.3"/><line x1="940.0" y1="145.3" x2="949.6" y2="145.3"/><line x1="955.4" y1="149.7" x2="965.0" y2="149.7"/><line x1="955.4" y1="552.3" x2="965.0" y2="552.3"/><line x1="970.8" y1="136.0" x2="980.4" y2="136.0"/><line x1="970.8" y1="424.0" x2="980.4" y2="424.0"/><line x1="986.2" y1="136.0" x2="995.8" y2="136.0"/><line x1="986.2" y1="487.7" x2="995.8" y2="487.7"/><line x1="1001.6" y1="175.3" x2="1011.2" y2="175.3"/><line x1="1001.6" y1="247.7" x2="1011.2" y2="247.7"/><line x1="1032.4" y1="124.3" x2="1042.0" y2="124.3"/><line x1="1032.4" y1="175.0" x2="1042.0" y2="175.0"/><line x1="1047.8" y1="260.0" x2="1057.4" y2="260.0"/><line x1="1047.8" y1="348.7" x2="1057.4" y2="348.7"/><line x1="1063.2" y1="297.3" x2="1072.8" y2="297.3"/><line x1="1063.2" y1="552.3" x2="1072.8" y2="552.3"/><line x1="1078.6" y1="230.0" x2="1088.2" y2="230.0"/><line x1="1078.6" y1="323.0" x2="1088.2" y2="323.0"/><line x1="1094.0" y1="214.3" x2="1103.6" y2="214.3"/><line x1="1094.0" y1="286.7" x2="1103.6" y2="286.7"/><line x1="1124.8" y1="81.0" x2="1134.4" y2="81.0"/><line x1="1124.8" y1="223.3" x2="1134.4" y2="223.3"/><line x1="1140.2" y1="100.0" x2="1149.8" y2="100.0"/><line x1="1140.2" y1="228.0" x2="1149.8" y2="228.0"/><line x1="1155.6" y1="103.0" x2="1165.2" y2="103.0"/><line x1="1155.6" y1="320.3" x2="1165.2" y2="320.3"/><line x1="1171.0" y1="95.7" x2="1180.6" y2="95.7"/><line x1="1171.0" y1="326.0" x2="1180.6" y2="326.0"/><line x1="1186.4" y1="377.3" x2="1196.0" y2="377.3"/><line x1="1186.4" y1="535.5" x2="1196.0" y2="535.5"/><line x1="1217.2" y1="62.3" x2="1226.8" y2="62.3"/><line x1="1217.2" y1="119.0" x2="1226.8" y2="119.0"/><line x1="1232.6" y1="148.0" x2="1242.2" y2="148.0"/><line x1="1232.6" y1="500.7" x2="1242.2" y2="500.7"/><line x1="1248.0" y1="211.3" x2="1257.6" y2="211.3"/><line x1="1248.0" y1="536.7" x2="1257.6" y2="536.7"/><line x1="1263.4" y1="108.3" x2="1273.0" y2="108.3"/><line x1="1263.4" y1="171.0" x2="1273.0" y2="171.0"/><line x1="1278.8" y1="143.3" x2="1288.4" y2="143.3"/><line x1="1278.8" y1="262.7" x2="1288.4" y2="262.7"/><line x1="1309.6" y1="70.0" x2="1319.2" y2="70.0"/><line x1="1309.6" y1="128.7" x2="1319.2" y2="128.7"/><line x1="1325.0" y1="76.3" x2="1334.6" y2="76.3"/><line x1="1325.0" y1="268.5" x2="1334.6" y2="268.5"/><line x1="1340.4" y1="79.3" x2="1350.0" y2="79.3"/><line x1="1340.4" y1="258.3" x2="1350.0" y2="258.3"/><line x1="1355.8" y1="100.0" x2="1365.4" y2="100.0"/><line x1="1355.8" y1="137.3" x2="1365.4" y2="137.3"/><line x1="1371.2" y1="130.7" x2="1380.8" y2="130.7"/><line x1="1371.2" y1="452.7" x2="1380.8" y2="452.7"/><line x1="1402.0" y1="91.0" x2="1411.6" y2="91.0"/><line x1="1402.0" y1="160.3" x2="1411.6" y2="160.3"/><line x1="1417.4" y1="160.7" x2="1427.0" y2="160.7"/><line x1="1417.4" y1="329.3" x2="1427.0" y2="329.3"/><line x1="1432.8" y1="154.3" x2="1442.4" y2="154.3"/><line x1="1432.8" y1="323.0" x2="1442.4" y2="323.0"/><line x1="1448.2" y1="150.0" x2="1457.8" y2="150.0"/><line x1="1448.2" y1="306.7" x2="1457.8" y2="306.7"/><line x1="1463.6" y1="145.3" x2="1473.2" y2="145.3"/><line x1="1463.6" y1="222.3" x2="1473.2" y2="222.3"/><line x1="1494.4" y1="92.3" x2="1504.0" y2="92.3"/><line x1="1494.4" y1="189.0" x2="1504.0" y2="189.0"/><line x1="1509.8" y1="84.0" x2="1519.4" y2="84.0"/><line x1="1509.8" y1="308.0" x2="1519.4" y2="308.0"/><line x1="1525.2" y1="76.0" x2="1534.8" y2="76.0"/><line x1="1525.2" y1="303.3" x2="1534.8" y2="303.3"/><line x1="1540.6" y1="432.0" x2="1550.2" y2="432.0"/><line x1="1556.0" y1="110.3" x2="1565.6" y2="110.3"/><line x1="1556.0" y1="216.3" x2="1565.6" y2="216.3"/><line x1="1586.8" y1="103.3" x2="1596.4" y2="103.3"/><line x1="1586.8" y1="189.0" x2="1596.4" y2="189.0"/><line x1="1602.2" y1="126.0" x2="1611.8" y2="126.0"/><line x1="1602.2" y1="320.3" x2="1611.8" y2="320.3"/><line x1="1617.6" y1="122.7" x2="1627.2" y2="122.7"/><line x1="1617.6" y1="320.3" x2="1627.2" y2="320.3"/><line x1="1633.0" y1="192.0" x2="1642.6" y2="192.0"/><line x1="1633.0" y1="276.3" x2="1642.6" y2="276.3"/><line x1="1648.4" y1="148.3" x2="1658.0" y2="148.3"/><line x1="1648.4" y1="246.7" x2="1658.0" y2="246.7"/><line x1="1679.2" y1="107.7" x2="1688.8" y2="107.7"/><line x1="1679.2" y1="119.3" x2="1688.8" y2="119.3"/><line x1="1694.6" y1="129.0" x2="1704.2" y2="129.0"/><line x1="1694.6" y1="209.0" x2="1704.2" y2="209.0"/><line x1="1710.0" y1="139.3" x2="1719.6" y2="139.3"/><line x1="1710.0" y1="228.3" x2="1719.6" y2="228.3"/><line x1="1725.4" y1="183.3" x2="1735.0" y2="183.3"/><line x1="1725.4" y1="260.0" x2="1735.0" y2="260.0"/><line x1="1740.8" y1="135.0" x2="1750.4" y2="135.0"/><line x1="1740.8" y1="222.3" x2="1750.4" y2="222.3"/><line x1="1771.6" y1="115.3" x2="1781.2" y2="115.3"/><line x1="1771.6" y1="398.3" x2="1781.2" y2="398.3"/><line x1="1787.0" y1="97.3" x2="1796.6" y2="97.3"/><line x1="1787.0" y1="345.7" x2="1796.6" y2="345.7"/><line x1="1802.4" y1="94.3" x2="1812.0" y2="94.3"/><line x1="1802.4" y1="374.7" x2="1812.0" y2="374.7"/><line x1="1817.8" y1="147.0" x2="1827.4" y2="147.0"/><line x1="1817.8" y1="478.3" x2="1827.4" y2="478.3"/><line x1="1833.2" y1="297.7" x2="1842.8" y2="297.7"/><line x1="1833.2" y1="604.8" x2="1842.8" y2="604.8"/><line x1="1864.0" y1="107.3" x2="1873.6" y2="107.3"/><line x1="1864.0" y1="254.0" x2="1873.6" y2="254.0"/><line x1="1879.4" y1="97.3" x2="1889.0" y2="97.3"/><line x1="1879.4" y1="338.3" x2="1889.0" y2="338.3"/><line x1="1894.8" y1="112.3" x2="1904.4" y2="112.3"/><line x1="1894.8" y1="339.7" x2="1904.4" y2="339.7"/><line x1="1910.2" y1="75.0" x2="1919.8" y2="75.0"/><line x1="1910.2" y1="395.3" x2="1919.8" y2="395.3"/><line x1="1925.6" y1="379.0" x2="1935.2" y2="379.0"/><line x1="1925.6" y1="520.0" x2="1935.2" y2="520.0"/></g>
<g fill="#000" stroke="#fff" stroke-width="1.6"><circle cx="113.2" cy="110.0" r="3.6"/><circle cx="128.6" cy="265.5" r="3.6"/><circle cx="144.0" cy="274.5" r="3.6"/><circle cx="159.4" cy="242.3" r="3.6"/><circle cx="174.8" cy="275.2" r="3.6"/><circle cx="205.6" cy="228.7" r="3.6"/><circle cx="221.0" cy="357.7" r="3.6"/><circle cx="236.4" cy="359.3" r="3.6"/><circle cx="251.8" cy="303.7" r="3.6"/><circle cx="267.2" cy="425.7" r="3.6"/><circle cx="298.0" cy="238.0" r="3.6"/><circle cx="313.4" cy="465.7" r="3.6"/><circle cx="328.8" cy="472.0" r="3.6"/><circle cx="344.2" cy="517.0" r="3.6"/><circle cx="359.6" cy="356.7" r="3.6"/><circle cx="390.4" cy="171.0" r="3.6"/><circle cx="405.8" cy="260.3" r="3.6"/><circle cx="421.2" cy="281.0" r="3.6"/><circle cx="436.6" cy="379.3" r="3.6"/><circle cx="452.0" cy="231.0" r="3.6"/><circle cx="482.8" cy="294.3" r="3.6"/><circle cx="498.2" cy="485.7" r="3.6"/><circle cx="513.6" cy="500.0" r="3.6"/><circle cx="529.0" cy="415.7" r="3.6"/><circle cx="544.4" cy="564.3" r="3.6"/><circle cx="575.2" cy="185.3" r="3.6"/><circle cx="590.6" cy="383.0" r="3.6"/><circle cx="606.0" cy="342.7" r="3.6"/><circle cx="621.4" cy="284.3" r="3.6"/><circle cx="636.8" cy="259.7" r="3.6"/><circle cx="667.6" cy="150.7" r="3.6"/><circle cx="683.0" cy="286.7" r="3.6"/><circle cx="698.4" cy="313.3" r="3.6"/><circle cx="713.8" cy="360.7" r="3.6"/><circle cx="729.2" cy="176.7" r="3.6"/><circle cx="760.0" cy="240.7" r="3.6"/><circle cx="775.4" cy="372.0" r="3.6"/><circle cx="790.8" cy="420.3" r="3.6"/><circle cx="806.2" cy="281.7" r="3.6"/><circle cx="821.6" cy="390.0" r="3.6"/><circle cx="852.4" cy="136.0" r="3.6"/><circle cx="867.8" cy="215.3" r="3.6"/><circle cx="883.2" cy="209.7" r="3.6"/><circle cx="898.6" cy="237.3" r="3.6"/><circle cx="914.0" cy="181.7" r="3.6"/><circle cx="944.8" cy="120.7" r="3.6"/><circle cx="960.2" cy="350.7" r="3.6"/><circle cx="975.6" cy="280.0" r="3.6"/><circle cx="991.0" cy="311.7" r="3.6"/><circle cx="1006.4" cy="211.7" r="3.6"/><circle cx="1037.2" cy="149.0" r="3.6"/><circle cx="1052.6" cy="304.3" r="3.6"/><circle cx="1068.0" cy="425.7" r="3.6"/><circle cx="1083.4" cy="275.7" r="3.6"/><circle cx="1098.8" cy="250.3" r="3.6"/><circle cx="1129.6" cy="153.3" r="3.6"/><circle cx="1145.0" cy="163.3" r="3.6"/><circle cx="1160.4" cy="211.7" r="3.6"/><circle cx="1175.8" cy="211.0" r="3.6"/><circle cx="1191.2" cy="457.3" r="3.6"/><circle cx="1222.0" cy="91.7" r="3.6"/><circle cx="1237.4" cy="324.3" r="3.6"/><circle cx="1252.8" cy="374.0" r="3.6"/><circle cx="1268.2" cy="140.0" r="3.6"/><circle cx="1283.6" cy="203.3" r="3.6"/><circle cx="1314.4" cy="99.3" r="3.6"/><circle cx="1329.8" cy="172.7" r="3.6"/><circle cx="1345.2" cy="168.7" r="3.6"/><circle cx="1360.6" cy="118.0" r="3.6"/><circle cx="1376.0" cy="291.0" r="3.6"/><circle cx="1406.8" cy="125.0" r="3.6"/><circle cx="1422.2" cy="245.7" r="3.6"/><circle cx="1437.6" cy="239.3" r="3.6"/><circle cx="1453.0" cy="228.0" r="3.6"/><circle cx="1468.4" cy="183.7" r="3.6"/><circle cx="1499.2" cy="141.0" r="3.6"/><circle cx="1514.6" cy="196.0" r="3.6"/><circle cx="1530.0" cy="190.3" r="3.6"/><circle cx="1545.4" cy="230.3" r="3.6"/><circle cx="1560.8" cy="164.0" r="3.6"/><circle cx="1591.6" cy="146.0" r="3.6"/><circle cx="1607.0" cy="222.7" r="3.6"/><circle cx="1622.4" cy="220.7" r="3.6"/><circle cx="1637.8" cy="234.0" r="3.6"/><circle cx="1653.2" cy="197.3" r="3.6"/><circle cx="1684.0" cy="113.3" r="3.6"/><circle cx="1699.4" cy="169.0" r="3.6"/><circle cx="1714.8" cy="183.7" r="3.6"/><circle cx="1730.2" cy="222.3" r="3.6"/><circle cx="1745.6" cy="179.3" r="3.6"/><circle cx="1776.4" cy="256.7" r="3.6"/><circle cx="1791.8" cy="221.7" r="3.6"/><circle cx="1807.2" cy="235.0" r="3.6"/><circle cx="1822.6" cy="313.0" r="3.6"/><circle cx="1838.0" cy="451.0" r="3.6"/><circle cx="1868.8" cy="181.0" r="3.6"/><circle cx="1884.2" cy="217.7" r="3.6"/><circle cx="1899.6" cy="226.3" r="3.6"/><circle cx="1915.0" cy="235.7" r="3.6"/><circle cx="1930.4" cy="450.0" r="3.6"/></g>
<g><path fill="#77AC30" d="M173.8 121.9 L175.5 125.6 L179.2 127.3 L175.5 129.0 L173.8 132.7 L172.1 129.0 L168.4 127.3 L172.1 125.6 Z"/><path fill="#77AC30" d="M358.1 126.6 L359.8 130.3 L363.5 132.0 L359.8 133.7 L358.1 137.4 L356.4 133.7 L352.7 132.0 L356.4 130.3 Z"/><path fill="#0072BD" d="M389.9 356.9 L391.6 360.6 L395.3 362.3 L391.6 364.0 L389.9 367.7 L388.2 364.0 L384.5 362.3 L388.2 360.6 Z"/><path fill="#EDB120" d="M977.6 557.3 L979.3 561.0 L983.0 562.7 L979.3 564.4 L977.6 568.1 L975.9 564.4 L972.2 562.7 L975.9 561.0 Z"/><path fill="#77AC30" d="M1192.7 295.3 L1194.4 299.0 L1198.1 300.7 L1194.4 302.4 L1192.7 306.1 L1191.0 302.4 L1187.3 300.7 L1191.0 299.0 Z"/><path fill="#D95319" d="M1513.3 414.6 L1515.0 418.3 L1518.7 420.0 L1515.0 421.7 L1513.3 425.4 L1511.6 421.7 L1507.9 420.0 L1511.6 418.3 Z"/><path fill="#EDB120" d="M1528.7 409.6 L1530.4 413.3 L1534.1 415.0 L1530.4 416.7 L1528.7 420.4 L1527.0 416.7 L1523.3 415.0 L1527.0 413.3 Z"/><path fill="#7E2F8E" d="M1545.4 628.6 L1547.1 632.3 L1550.8 634.0 L1547.1 635.7 L1545.4 639.4 L1543.7 635.7 L1540.0 634.0 L1543.7 632.3 Z"/><path fill="#0072BD" d="M1685.0 93.9 L1686.7 97.6 L1690.4 99.3 L1686.7 101.0 L1685.0 104.7 L1683.3 101.0 L1679.6 99.3 L1683.3 97.6 Z"/><path fill="#EDB120" d="M1714.8 91.9 L1716.5 95.6 L1720.2 97.3 L1716.5 99.0 L1714.8 102.7 L1713.1 99.0 L1709.4 97.3 L1713.1 95.6 Z"/><path fill="#D95319" d="M1789.3 459.6 L1791.0 463.3 L1794.7 465.0 L1791.0 466.7 L1789.3 470.4 L1787.6 466.7 L1783.9 465.0 L1787.6 463.3 Z"/><path fill="#77AC30" d="M1839.0 143.3 L1840.7 147.0 L1844.4 148.7 L1840.7 150.4 L1839.0 154.1 L1837.3 150.4 L1833.6 148.7 L1837.3 147.0 Z"/></g>
</g>
<rect x="98.9" y="51.8" width="1846.1999999999998" height="578.8000000000001" fill="none" stroke="#0a0a0a" stroke-width="1.4" stroke-linejoin="round"/>
<g stroke="#0a0a0a" stroke-width="1.1">
<line x1="98.9" y1="516.0" x2="116.9" y2="516.0"/>
<line x1="1945.1" y1="516.0" x2="1927.1" y2="516.0"/>
<line x1="98.9" y1="400.0" x2="116.9" y2="400.0"/>
<line x1="1945.1" y1="400.0" x2="1927.1" y2="400.0"/>
<line x1="98.9" y1="284.0" x2="116.9" y2="284.0"/>
<line x1="1945.1" y1="284.0" x2="1927.1" y2="284.0"/>
<line x1="98.9" y1="168.0" x2="116.9" y2="168.0"/>
<line x1="1945.1" y1="168.0" x2="1927.1" y2="168.0"/>
<line x1="406.1" y1="51.8" x2="406.1" y2="69.8"/>
<line x1="406.1" y1="630.6" x2="406.1" y2="612.6"/>
<line x1="714.2" y1="51.8" x2="714.2" y2="69.8"/>
<line x1="714.2" y1="630.6" x2="714.2" y2="612.6"/>
<line x1="1022.2" y1="51.8" x2="1022.2" y2="69.8"/>
<line x1="1022.2" y1="630.6" x2="1022.2" y2="612.6"/>
<line x1="1330.3" y1="51.8" x2="1330.3" y2="69.8"/>
<line x1="1330.3" y1="630.6" x2="1330.3" y2="612.6"/>
<line x1="1638.4" y1="51.8" x2="1638.4" y2="69.8"/>
<line x1="1638.4" y1="630.6" x2="1638.4" y2="612.6"/>
</g>
<g font-size="32.2" text-anchor="end" fill="#111">
<text x="86.9" y="644.1">0</text>
<text x="86.9" y="528.1">0.2</text>
<text x="86.9" y="412.1">0.4</text>
<text x="86.9" y="296.1">0.6</text>
<text x="86.9" y="180.1">0.8</text>
<text x="86.9" y="64.1">1</text>
</g>
<text font-size="35" fill="#111" text-anchor="middle" transform="translate(26.5 341.5) rotate(-90)">IoU</text>
<g font-size="30.3" fill="#111">
<text transform="translate(129.2 624.6) rotate(-90)">A</text>
<text transform="translate(221.6 624.6) rotate(-90)">B</text>
<text transform="translate(314.0 624.6) rotate(-90)">C</text>
<text transform="translate(406.5 624.6) rotate(-90)">D</text>
<text transform="translate(498.9 624.6) rotate(-90)">E</text>
<text transform="translate(591.3 624.6) rotate(-90)">F</text>
<text transform="translate(683.7 624.6) rotate(-90)">G</text>
<text transform="translate(776.2 624.6) rotate(-90)">H</text>
<text transform="translate(868.6 624.6) rotate(-90)">I</text>
<text transform="translate(961.0 624.6) rotate(-90)">J</text>
<text transform="translate(1053.4 624.6) rotate(-90)">K</text>
<text transform="translate(1145.9 624.6) rotate(-90)">L</text>
<text transform="translate(1238.3 624.6) rotate(-90)">M</text>
<text transform="translate(1330.7 624.6) rotate(-90)">N</text>
<text transform="translate(1423.1 624.6) rotate(-90)">O</text>
<text transform="translate(1515.6 624.6) rotate(-90)">P</text>
<text transform="translate(1608.0 624.6) rotate(-90)">Q</text>
<text transform="translate(1700.4 624.6) rotate(-90)">R</text>
<text transform="translate(1792.8 624.6) rotate(-90)">S</text>
<text transform="translate(1885.3 624.6) rotate(-90)">T</text>
</g>
<rect x="100.3" y="2.2" width="1846.3" height="42.1" fill="#fff" stroke="#0a0a0a" stroke-width="1.3"/>
<line x1="104.7" y1="23.3" x2="164.8" y2="23.3" stroke="#0072BD" stroke-width="7"/>
<text x="170.7" y="34.5" font-size="28.7" fill="#0a0a0a" textLength="175.0" lengthAdjust="spacing">HoloSForests</text>
<line x1="358" y1="23.3" x2="417.7" y2="23.3" stroke="#D95319" stroke-width="7"/>
<text x="423.6" y="34.5" font-size="28.7" fill="#0a0a0a" textLength="137.3" lengthAdjust="spacing">sobelEdge</text>
<line x1="571.7" y1="23.3" x2="632.5" y2="23.3" stroke="#EDB120" stroke-width="7"/>
<text x="637.8" y="34.5" font-size="28.7" fill="#0a0a0a" textLength="152.6" lengthAdjust="spacing">prewittEdge</text>
<line x1="802.3" y1="23.3" x2="863" y2="23.3" stroke="#7E2F8E" stroke-width="7"/>
<text x="868.0" y="34.5" font-size="28.7" fill="#0a0a0a" textLength="215.5" lengthAdjust="spacing">SRegionMerging</text>
<line x1="1094.6" y1="23.3" x2="1155.3" y2="23.3" stroke="#77AC30" stroke-width="7"/>
<text x="1159.0" y="34.5" font-size="28.7" fill="#0a0a0a" textLength="106.6" lengthAdjust="spacing">KMeans</text>
<circle cx="1308.7" cy="23.7" r="3" fill="#000"/>
<text x="1343.2" y="34.5" font-size="28.7" fill="#0a0a0a" textLength="170" lengthAdjust="spacing">Mean (mIoU)</text>
<g stroke="#000" stroke-width="2.8"><path d="M1554.7 11.5V14.6M1554.7 20.6V23.2M1554.7 24.4V27M1554.7 32.4V35.4" stroke-width="3"/><line x1="1549.5" y1="10.3" x2="1560" y2="10.3" stroke-linecap="round"/><line x1="1549.5" y1="36.4" x2="1560" y2="36.4" stroke-linecap="round"/></g>
<text x="1588.2" y="34.5" font-size="28.7" fill="#0a0a0a" textLength="353.6" lengthAdjust="spacing">Standard deviation (stdIoU)</text>
<clipPath id="cA"><rect x="98.3" y="724.3" width="92.0" height="28.0"/></clipPath>
<rect x="98.3" y="724.3" width="92.0" height="28.0" fill="rgb(182,182,182)" filter="url(#nA)"/>
<g clip-path="url(#cA)"><path d="M105.7 728.7 C107.2 729.2 111.1 730.3 114.9 731.8 C118.8 733.2 125.6 736.1 128.8 737.4 C132.0 738.7 132.2 738.7 133.9 739.5 C135.6 740.3 136.9 741.6 139.0 742.1 C141.1 742.6 144.7 742.6 146.7 742.6 C148.7 742.6 148.7 742.6 150.8 742.1 C152.9 741.6 156.5 740.7 159.5 739.5 C162.5 738.3 165.7 735.6 168.8 734.9 C171.9 734.2 175.7 734.9 178.0 735.4 C180.3 735.9 181.8 737.5 182.6 737.9" fill="none" stroke="#0a0a0a" stroke-width="2.0" stroke-dasharray="2.4 2.4 1.4 2.8 3.2 1.9" opacity="0.85" filter="url(#bl0)"/>
<path d="M171.8 745.1 L174.9 747.7 M132.9 744.1 L133.4 745.6" stroke="#222" stroke-width="1.6" opacity="0.75"/></g>
<rect x="98.3" y="724.3" width="92.0" height="28.0" fill="none" stroke="#0d0d0d" stroke-width="1.45" stroke-linejoin="round"/>
<clipPath id="cB"><rect x="191.7" y="704.3" width="91.0" height="68.0"/></clipPath>
<rect x="191.7" y="704.3" width="91.0" height="68.0" fill="rgb(158,158,158)" filter="url(#nB)"/>
<g clip-path="url(#cB)"><path d="M222.8 728.9 L230.9 738.5 M227.4 727.3 L231.9 737.4 M235.5 729.9 L236.5 738.5 L241.5 728.4 L246.6 739.5 L249.6 731.4 M252.7 733.4 C253.4 732.9 255.4 730.3 256.7 730.4 C258.0 730.5 260.0 733.3 260.7 733.9 M231.4 739.5 C230.2 739.7 225.7 739.6 224.4 740.5 C223.2 741.4 223.1 744.3 223.9 745.0 C224.7 745.7 229.3 743.5 229.4 744.5 C229.5 745.5 225.2 750.0 224.4 751.1 M230.4 745.0 L235.0 747.6" fill="none" stroke="#0c0c0c" stroke-width="1.7" stroke-linecap="round" stroke-linejoin="round" opacity="0.88" filter="url(#bl0)"/></g>
<rect x="191.7" y="704.3" width="91.0" height="68.0" fill="none" stroke="#0d0d0d" stroke-width="1.45" stroke-linejoin="round"/>
<clipPath id="cC"><rect x="283.7" y="701.7" width="90.6" height="74.0"/></clipPath>
<rect x="283.7" y="701.7" width="90.6" height="74.0" fill="rgb(168,168,168)" filter="url(#nC)"/>
<g clip-path="url(#cC)"><path d="M310.3 718.2 C312.8 717.2 320.1 712.7 325.5 712.2 C330.9 711.7 337.5 711.7 342.7 715.2 C347.9 718.7 353.3 728.0 356.8 733.4 C360.3 738.8 363.6 743.2 363.9 747.6 C364.2 752.0 362.3 756.7 358.8 759.7 C355.3 762.7 348.4 765.2 342.7 765.7 C337.0 766.2 329.4 765.7 324.5 762.7 C319.6 759.7 316.3 752.5 313.4 747.6 C310.5 742.7 307.8 738.3 307.3 733.4 C306.8 728.5 309.8 720.7 310.3 718.2" fill="url(#net)" opacity="0.6" filter="url(#bl0)"/>
<path d="M305.3 716.7 L368.9 765.7" stroke="#111" stroke-width="2.4" opacity="0.85" stroke-dasharray="3 1"/>
<path d="M286.1 708.1 L305.3 720.3 M303.2 703.1 L309.3 715.2 M313.4 703.1 L315.4 715.2 M320.4 703.1 L320.4 714.2 M327.5 704.1 L325.5 714.2 M287.1 722.3 L304.3 722.3 M352.8 755.6 L371.0 756.6 M352.8 757.7 L369.9 767.8 M350.7 760.7 L359.8 772.8 M345.7 761.7 L349.7 774.8 M340.6 761.7 L341.6 774.8 M310.3 750.6 L300.2 751.6 M360.8 739.5 L371.0 740.5 " stroke="#1a1a1a" stroke-width="1.2" opacity="0.75" fill="none"/></g>
<rect x="283.7" y="701.7" width="90.6" height="74.0" fill="none" stroke="#0d0d0d" stroke-width="1.45" stroke-linejoin="round"/>
<clipPath id="cD"><rect x="375.7" y="720" width="91.0" height="37.3"/></clipPath>
<rect x="375.7" y="720" width="91.0" height="37.3" fill="rgb(162,162,162)" filter="url(#nD)"/>
<g clip-path="url(#cD)"><path d="M380.1 730.4 C382.0 729.3 386.0 724.8 391.2 723.8 C396.4 722.8 406.0 723.0 411.4 724.3 C416.8 725.6 418.4 729.5 423.5 731.4 C428.6 733.2 436.1 733.4 441.7 735.4 C447.3 737.4 453.0 740.6 456.9 743.5 C460.8 746.4 465.8 751.1 464.9 752.6 C464.0 754.1 456.5 754.3 451.8 752.6 C447.1 750.9 441.7 745.0 436.6 742.5 C431.6 740.0 426.6 738.1 421.5 737.4 C416.4 736.7 411.7 738.8 406.3 738.5 C400.9 738.2 393.5 736.8 389.1 735.4 C384.7 734.0 381.6 731.2 380.1 730.4" fill="#0a0a0a" opacity="0.9" filter="url(#spk)"/></g>
<rect x="375.7" y="720" width="91.0" height="37.3" fill="none" stroke="#0d0d0d" stroke-width="1.45" stroke-linejoin="round"/>
<clipPath id="cE"><rect x="467.7" y="715.3" width="92.3" height="46.4"/></clipPath>
<rect x="467.7" y="715.3" width="92.3" height="46.4" fill="rgb(165,165,165)" filter="url(#nE)"/>
<g clip-path="url(#cE)"><path d="M474.1 757.7 L552.9 720.3" stroke="#222" stroke-width="1.3" stroke-dasharray="1.3 1.5" opacity="0.6"/>
<path d="M519.6 735.4 L535.7 730.4" stroke="#111" stroke-width="2" opacity="0.7"/>
<path d="M517.6 728.4 C516.9 727.7 514.9 724.5 513.5 724.3 C512.1 724.1 509.7 726.1 509.5 727.3 C509.3 728.5 511.1 731.0 512.5 731.4 C513.9 731.8 516.8 729.7 517.6 729.4" fill="none" stroke="#555" stroke-width="1.2" opacity="0.8"/></g>
<rect x="467.7" y="715.3" width="92.3" height="46.4" fill="none" stroke="#0d0d0d" stroke-width="1.45" stroke-linejoin="round"/>
<clipPath id="cF"><rect x="561" y="701.7" width="91.0" height="74.0"/></clipPath>
<rect x="561" y="701.7" width="91.0" height="74.0" fill="rgb(182,182,182)" filter="url(#nF)"/>
<g clip-path="url(#cF)"><circle cx="605.5" cy="744.5" r="15.5" fill="#e8e8e8" opacity="0.35" filter="url(#bl2)"/>
<path d="M591.3 745.5 C591.8 743.8 592.9 738.2 594.4 735.4 C595.9 732.5 598.0 730.2 600.4 728.4 C602.8 726.5 605.8 724.3 608.5 724.3 C611.2 724.3 614.2 725.9 616.6 728.4 C619.0 730.9 621.5 736.0 622.7 739.5 C623.9 743.0 624.4 747.1 623.7 749.6 C623.0 752.1 620.8 753.6 618.6 754.6 C616.4 755.6 613.7 755.3 610.5 755.6 C607.3 755.9 602.3 757.1 599.4 756.6 C596.5 756.1 594.6 754.5 593.3 752.6 C591.9 750.8 591.6 746.7 591.3 745.5" fill="#777" opacity="0.45" filter="url(#bl1)"/>
<path d="M595.4 737.4 C596.2 735.9 598.4 730.9 600.4 728.4 C602.4 725.9 605.3 722.8 607.5 722.3 C609.7 721.8 611.6 723.3 613.6 725.3 C615.6 727.3 617.9 731.0 619.6 734.4 C621.3 737.8 623.5 742.1 623.7 745.5 C623.9 748.9 622.1 753.4 620.6 754.6 C619.1 755.8 616.0 754.6 614.6 752.6 C613.2 750.6 613.5 745.4 612.5 742.5 C611.5 739.6 610.4 736.8 608.5 735.4 C606.6 734.0 603.6 734.1 601.4 734.4 C599.2 734.7 596.4 736.9 595.4 737.4" fill="#080808" opacity="0.9" filter="url(#spk2)"/>
<path d="M610.5 728.4 C611.5 729.6 615.2 732.5 616.6 735.4 C618.0 738.2 618.6 742.8 618.6 745.5 C618.6 748.2 616.9 750.6 616.6 751.6" fill="none" stroke="#0a0a0a" stroke-width="3.4" opacity="0.85" filter="url(#bl1)"/>
<path d="M606.5 724.3 L603.5 711.2 M614.6 727.3 L622.7 720.3 M622.7 747.6 L629.7 747.6" stroke="#333" stroke-width="1.8" opacity="0.55" stroke-linecap="round" filter="url(#bl1)"/>
<path d="M592.8 742.5 C592.9 744.0 592.2 749.1 593.3 751.6 C594.4 754.1 596.9 756.5 599.4 757.2 C601.9 757.9 607.0 755.9 608.5 755.6" fill="none" stroke="#333" stroke-width="1.2" opacity="0.7"/>
<circle cx="593.9" cy="745.0" r="1.6" fill="#111" opacity="0.9"/></g>
<rect x="561" y="701.7" width="91.0" height="74.0" fill="none" stroke="#0d0d0d" stroke-width="1.45" stroke-linejoin="round"/>
<clipPath id="cG"><rect x="652.7" y="698.7" width="91.6" height="78.0"/></clipPath>
<rect x="652.7" y="698.7" width="91.6" height="78.0" fill="rgb(176,176,176)" filter="url(#nG)"/>
<g clip-path="url(#cG)"><path d="M691.4 735.4 C693.3 735.1 698.0 732.5 702.6 733.4 C707.2 734.2 714.2 737.5 718.7 740.5 C723.2 743.5 727.6 748.2 729.8 751.6 C732.0 755.0 732.7 758.4 731.9 760.7 C731.1 763.1 727.7 765.4 724.8 765.7 C721.9 766.0 718.4 765.1 714.7 762.7 C711.0 760.4 706.1 755.1 702.6 751.6 C699.1 748.1 695.4 744.2 693.5 741.5 C691.6 738.8 691.8 736.4 691.4 735.4" fill="#555" opacity="0.45" filter="url(#bl1)"/>
<path d="M691.4 735.4 C693.3 735.1 698.0 732.5 702.6 733.4 C707.2 734.2 714.2 737.5 718.7 740.5 C723.2 743.5 727.6 748.2 729.8 751.6 C732.0 755.0 732.7 758.4 731.9 760.7 C731.1 763.1 727.7 765.4 724.8 765.7 C721.9 766.0 718.4 765.1 714.7 762.7 C711.0 760.4 706.1 755.1 702.6 751.6 C699.1 748.1 695.4 744.2 693.5 741.5 C691.6 738.8 691.8 736.4 691.4 735.4" fill="#0a0a0a" opacity="0.9" filter="url(#spk)"/>
<path d="M691.4 735.4 C693.3 735.1 698.0 732.5 702.6 733.4 C707.2 734.2 714.2 737.5 718.7 740.5 C723.2 743.5 727.6 748.2 729.8 751.6 C732.0 755.0 732.7 758.4 731.9 760.7 C731.1 763.1 727.7 765.4 724.8 765.7 C721.9 766.0 718.4 765.1 714.7 762.7 C711.0 760.4 706.1 755.1 702.6 751.6 C699.1 748.1 695.4 744.2 693.5 741.5 C691.6 738.8 691.8 736.4 691.4 735.4" fill="none" stroke="#222" stroke-width="1.3" opacity="0.8"/>
<path d="M661.1 701.1 C662.6 703.0 667.0 708.8 670.2 712.2 C673.4 715.6 676.9 717.6 680.3 721.3 C683.7 725.0 688.7 732.2 690.4 734.4" fill="none" stroke="#222" stroke-width="2.4" opacity="0.72" filter="url(#bl0)"/>
<path d="M695.5 733.4 L709.6 718.2 M698.5 730.4 L704.6 723.3 M682.3 737.4 L689.4 735.4 M720.7 741.5 L735.9 747.0" stroke="#333" stroke-width="1.4" opacity="0.75"/></g>
<rect x="652.7" y="698.7" width="91.6" height="78.0" fill="none" stroke="#0d0d0d" stroke-width="1.45" stroke-linejoin="round"/>
<clipPath id="cH"><rect x="745.7" y="704.3" width="90.3" height="68.0"/></clipPath>
<rect x="745.7" y="704.3" width="90.3" height="68.0" fill="rgb(184,184,184)" filter="url(#nH)"/>
<g clip-path="url(#cH)"><path d="M764.2 754.1 L790.5 741.0" stroke="#1a1a1a" stroke-width="4.6" opacity="0.8" stroke-linecap="butt" filter="url(#bl0)"/>
<path d="M764.2 754.1 L790.5 741.0" stroke="#c4c4c4" stroke-width="1.8" opacity="0.85" stroke-dasharray="4 3" stroke-dashoffset="-3"/>
<path d="M798.1 739.5 L818.8 717.7" stroke="#1a1a1a" stroke-width="4.6" opacity="0.8" stroke-linecap="butt" filter="url(#bl0)"/>
<path d="M798.1 739.5 L818.8 717.7" stroke="#c4c4c4" stroke-width="1.8" opacity="0.85" stroke-dasharray="4 3" stroke-dashoffset="-3"/>
<path d="M761.2 743.5 L769.3 760.7 M790.5 739.5 L798.6 739.5 M799.6 740.5 L805.6 749.6 M785.4 732.4 L791.5 739.5" stroke="#444" stroke-width="1.2" opacity="0.6"/></g>
<rect x="745.7" y="704.3" width="90.3" height="68.0" fill="none" stroke="#0d0d0d" stroke-width="1.45" stroke-linejoin="round"/>
<clipPath id="cI"><rect x="837.3" y="713.3" width="92.0" height="48.4"/></clipPath>
<rect x="837.3" y="713.3" width="92.0" height="48.4" fill="rgb(182,182,182)" filter="url(#nI)"/>
<g clip-path="url(#cI)"><path d="M864.3 742.0 L901.7 735.1" stroke="#111" stroke-width="3.6" opacity="0.9" stroke-linecap="round" filter="url(#bl1)"/></g>
<rect x="837.3" y="713.3" width="92.0" height="48.4" fill="none" stroke="#0d0d0d" stroke-width="1.45" stroke-linejoin="round"/>
<clipPath id="cJ"><rect x="930.3" y="709" width="91.0" height="57.7"/></clipPath>
<rect x="930.3" y="709" width="91.0" height="57.7" fill="rgb(172,172,172)" filter="url(#nJ)"/>
<g clip-path="url(#cJ)"><path d="M945.8 741.4 C947.4 740.6 951.9 736.5 955.6 736.5 C959.3 736.5 965.0 739.4 967.9 741.4 C970.8 743.4 972.9 746.3 972.9 748.8 C972.9 751.3 970.8 754.6 967.9 756.2 C965.0 757.9 959.1 759.1 955.6 758.7 C952.1 758.3 948.6 756.6 947.0 753.7 C945.4 750.8 946.0 743.5 945.8 741.4" fill="#0a0a0a" opacity="0.85" filter="url(#spk2)"/>
<path d="M967.9 731.6 C969.5 731.0 974.1 727.9 977.8 727.9 C981.5 727.9 987.9 730.0 990.1 731.6 C992.4 733.2 992.9 736.3 991.3 737.7 C989.6 739.1 983.7 740.2 980.2 740.2 C976.7 740.2 972.5 739.1 970.4 737.7 C968.3 736.3 968.3 732.6 967.9 731.6" fill="#0a0a0a" opacity="0.9" filter="url(#spk2)"/>
<path d="M988.9 732.8 L1005.4 721.2 M963.0 727.9 L965.0 737.7 M983.9 723.0 L986.4 727.9 M956.8 758.7 L957.3 762.4" stroke="#111" stroke-width="1.5" opacity="0.8" stroke-linecap="round" filter="url(#bl0)"/>
<path d="M948.2 755.0 C949.9 755.8 954.8 759.7 958.1 759.9 C961.4 760.1 966.3 756.8 967.9 756.2" fill="none" stroke="#eee" stroke-width="1.2" opacity="0.7"/></g>
<rect x="930.3" y="709" width="91.0" height="57.7" fill="none" stroke="#0d0d0d" stroke-width="1.45" stroke-linejoin="round"/>
<clipPath id="cK"><rect x="1022.7" y="714" width="90.6" height="49.3"/></clipPath>
<rect x="1022.7" y="714" width="90.6" height="49.3" fill="rgb(182,182,182)" filter="url(#nK)"/>
<g clip-path="url(#cK)"><path d="M1041.3 729.9 L1059.1 733.5 L1064.0 731.6 L1072.6 736.0 L1099.7 747.6 L1078.8 743.4 L1066.5 742.7 L1060.3 739.0 L1056.6 736.0 L1041.3 729.9" fill="#111" opacity="0.8" filter="url(#bl0)"/></g>
<rect x="1022.7" y="714" width="90.6" height="49.3" fill="none" stroke="#0d0d0d" stroke-width="1.45" stroke-linejoin="round"/>
<clipPath id="cL"><rect x="1114.3" y="679" width="92.0" height="117.7"/></clipPath>
<rect x="1114.3" y="679" width="92.0" height="117.7" fill="rgb(165,165,165)" filter="url(#nL)"/>
<g clip-path="url(#cL)"><path d="M1121.7 689.9 Q1125.4 684.4 1129.1 688.4 T1126.0 692.1 M1126.1 698.2 Q1129.8 692.7 1133.5 696.7 T1130.4 700.4 M1130.6 706.6 Q1134.3 701.0 1138.0 705.0 T1134.9 708.7 M1135.2 714.9 Q1138.9 709.3 1142.6 713.3 T1139.6 717.0 M1140.1 723.2 Q1143.8 717.6 1147.5 721.6 T1144.4 725.3 M1145.2 731.5 Q1148.9 725.9 1152.7 729.9 T1149.6 733.6 M1150.7 739.8 Q1154.4 734.2 1158.1 738.2 T1155.0 741.9 M1156.4 748.1 Q1160.2 742.5 1163.9 746.5 T1160.8 750.3 M1162.5 756.4 Q1166.2 750.8 1169.9 754.9 T1166.8 758.6 M1168.8 764.7 Q1172.6 759.1 1176.3 763.2 T1173.2 766.9 M1175.4 773.0 Q1179.1 767.4 1182.8 771.5 T1179.7 775.2 M1182.1 781.3 Q1185.8 775.8 1189.5 779.8 T1186.5 783.5 M1188.9 789.6 Q1192.6 784.1 1196.4 788.1 T1193.3 791.8 " fill="none" stroke="#1a1a1a" stroke-width="1.6" opacity="0.85" stroke-linecap="round"/></g>
<rect x="1114.3" y="679" width="92.0" height="117.7" fill="none" stroke="#0d0d0d" stroke-width="1.45" stroke-linejoin="round"/>
<clipPath id="cM"><rect x="1207.3" y="700" width="91.4" height="76.7"/></clipPath>
<rect x="1207.3" y="700" width="91.4" height="76.7" fill="rgb(176,176,176)" filter="url(#nM)"/>
<g clip-path="url(#cM)"><path d="M1225.6 714.2 C1226.6 714.2 1227.8 711.5 1231.4 713.9 C1235.1 716.3 1241.5 722.9 1247.5 728.4 C1253.5 733.9 1262.0 741.9 1267.6 747.0 C1273.2 752.1 1278.9 756.5 1280.9 759.3 C1282.9 762.1 1281.3 764.2 1279.4 764.0 C1277.5 763.8 1274.2 761.6 1269.6 758.1 C1264.9 754.6 1257.5 748.2 1251.5 743.0 C1245.5 737.8 1237.6 731.4 1233.3 726.6 C1229.0 721.8 1226.9 716.3 1225.6 714.2" fill="#1a1a1a" opacity="0.8" filter="url(#bl1)"/></g>
<rect x="1207.3" y="700" width="91.4" height="76.7" fill="none" stroke="#0d0d0d" stroke-width="1.45" stroke-linejoin="round"/>
<clipPath id="cN"><rect x="1300" y="724.6" width="90.8" height="26.4"/></clipPath>
<rect x="1300" y="724.6" width="90.8" height="26.4" fill="rgb(165,165,165)" filter="url(#nN)"/>
<g clip-path="url(#cN)"><path d="M1308.1 744.2 C1310.0 743.0 1315.5 739.1 1319.7 737.2 C1324.0 735.3 1327.4 733.6 1333.6 732.6 C1339.8 731.6 1350.9 731.0 1356.8 731.5 C1362.7 732.0 1365.0 733.6 1369.2 735.7 C1373.5 737.8 1380.1 742.8 1382.3 744.2" fill="none" stroke="#151515" stroke-width="2.5" opacity="0.8" stroke-dasharray="4 1" filter="url(#bl0)"/></g>
<rect x="1300" y="724.6" width="90.8" height="26.4" fill="none" stroke="#0d0d0d" stroke-width="1.45" stroke-linejoin="round"/>
<clipPath id="cO"><rect x="1391.6" y="704.7" width="90.8" height="66.1"/></clipPath>
<rect x="1391.6" y="704.7" width="90.8" height="66.1" fill="rgb(146,146,146)" filter="url(#nO)"/>
<g clip-path="url(#cO)"><g transform="rotate(12 1427.9 736.5)" fill="none" stroke="#111" opacity="0.8"><ellipse cx="1427.9" cy="736.5" rx="13.5" ry="7" stroke-width="2.2" fill="#222" fill-opacity="0.35"/><ellipse cx="1427.9" cy="736.5" rx="9" ry="4" stroke-width="1.3"/></g>
<path d="M1443.4 741.1 L1455.7 719.5 M1443.4 741.1 L1438.0 722.6 M1443.4 741.1 L1463.5 738.8 M1443.4 741.1 L1461.2 755.0 M1443.4 741.1 L1444.1 765.8 M1443.4 741.1 L1429.5 755.0 M1443.4 741.1 L1434.1 734.9 " stroke="#151515" stroke-width="1.7" opacity="0.8" stroke-linecap="round" filter="url(#bl1)"/>
<circle cx="1443.4" cy="741.9" r="4.5" fill="#222" opacity="0.7" filter="url(#bl1)"/></g>
<rect x="1391.6" y="704.7" width="90.8" height="66.1" fill="none" stroke="#0d0d0d" stroke-width="1.45" stroke-linejoin="round"/>
<clipPath id="cP"><rect x="1483.6" y="712" width="92.0" height="51.0"/></clipPath>
<rect x="1483.6" y="712" width="92.0" height="51.0" fill="rgb(172,172,172)" filter="url(#nP)"/>
<g clip-path="url(#cP)"><path d="M1508.0 731.7 C1509.8 731.4 1515.0 729.8 1519.1 729.7 C1523.2 729.6 1528.5 729.6 1532.6 730.9 C1536.7 732.2 1540.3 735.2 1543.7 737.6 C1547.1 740.0 1553.9 743.6 1553.1 745.0 C1552.3 746.4 1543.2 746.3 1538.8 746.2 C1534.4 746.1 1530.2 745.8 1526.5 744.5 C1522.8 743.2 1519.7 740.4 1516.6 738.3 C1513.5 736.2 1509.4 732.8 1508.0 731.7" fill="none" stroke="#f4f4f4" stroke-width="3.5" opacity="0.55" filter="url(#bl1)"/>
<path d="M1508.0 731.7 C1509.8 731.4 1515.0 729.8 1519.1 729.7 C1523.2 729.6 1528.5 729.6 1532.6 730.9 C1536.7 732.2 1540.3 735.2 1543.7 737.6 C1547.1 740.0 1553.9 743.6 1553.1 745.0 C1552.3 746.4 1543.2 746.3 1538.8 746.2 C1534.4 746.1 1530.2 745.8 1526.5 744.5 C1522.8 743.2 1519.7 740.4 1516.6 738.3 C1513.5 736.2 1509.4 732.8 1508.0 731.7" fill="#1e1e1e" opacity="0.88" filter="url(#bl0)"/></g>
<rect x="1483.6" y="712" width="92.0" height="51.0" fill="none" stroke="#0d0d0d" stroke-width="1.45" stroke-linejoin="round"/>
<clipPath id="cQ"><rect x="1577" y="699.8" width="91.3" height="77.1"/></clipPath>
<rect x="1577" y="699.8" width="91.3" height="77.1" fill="rgb(181,181,181)" filter="url(#nQ)"/>
<g clip-path="url(#cQ)"><ellipse cx="1622.9" cy="738.0" rx="17" ry="19" fill="#f0f0f0" opacity="0.45" filter="url(#bl2)"/>
<g transform="rotate(15 1622.9 738.0)"><ellipse cx="1622.9" cy="738.0" rx="11.6" ry="13.6" fill="#3c3c3c" stroke="#141414" stroke-width="2.2" opacity="0.95"/><ellipse cx="1622.9" cy="738.0" rx="6.4" ry="8" fill="#585858" stroke="#1c1c1c" stroke-width="1.6" opacity="0.9"/></g></g>
<rect x="1577" y="699.8" width="91.3" height="77.1" fill="none" stroke="#0d0d0d" stroke-width="1.45" stroke-linejoin="round"/>
<clipPath id="cR"><rect x="1669.5" y="701.7" width="90.5" height="73.6"/></clipPath>
<rect x="1669.5" y="701.7" width="90.5" height="73.6" fill="rgb(187,187,187)" filter="url(#nR)"/>
<g clip-path="url(#cR)"><rect x="1698.9" y="724.7" width="33.6" height="29.7" rx="6" fill="#f4f4f4" opacity="0.5" filter="url(#bl2)"/>
<g transform="rotate(6 1715.7 739.5)"><rect x="1701.4" y="727.2" width="28.6" height="24.7" rx="4.5" fill="#777" stroke="#2a2a2a" stroke-width="1.3" opacity="0.95"/><path d="M1703.4 732.7H1728.0M1703.4 737.7H1728.0M1703.4 746.9H1728.0" stroke="#141414" stroke-width="3.2" opacity="0.88"/><path d="M1704.4 741.7H1727.0" stroke="#ddd" stroke-width="2.2" opacity="0.8"/></g></g>
<rect x="1669.5" y="701.7" width="90.5" height="73.6" fill="none" stroke="#0d0d0d" stroke-width="1.45" stroke-linejoin="round"/>
<clipPath id="cS"><rect x="1760.7" y="696.7" width="91.6" height="81.7"/></clipPath>
<rect x="1760.7" y="696.7" width="91.6" height="81.7" fill="rgb(168,168,168)" filter="url(#nS)"/>
<g clip-path="url(#cS)"><rect x="1760.9" y="697.0" width="91.2" height="81.2" fill="url(#wave)"/>
<path d="M1777.1 710.5 C1780.2 713.3 1789.0 721.1 1795.7 727.2 C1802.4 733.3 1810.0 740.7 1817.3 747.3 C1824.6 753.9 1836.0 763.4 1839.7 766.6" fill="none" stroke="#141414" stroke-width="3.9" stroke-dasharray="3.3 3.5" opacity="0.85" filter="url(#bl1)"/>
<path d="M1792.6 721.0 L1814.2 702.5" stroke="#eee" stroke-width="1.5" opacity="0.5" stroke-dasharray="2 2"/></g>
<rect x="1760.7" y="696.7" width="91.6" height="81.7" fill="none" stroke="#0d0d0d" stroke-width="1.45" stroke-linejoin="round"/>
<clipPath id="cT"><rect x="1853" y="636.8" width="92.8" height="201.9"/></clipPath>
<rect x="1853" y="636.8" width="92.8" height="201.9" fill="rgb(162,162,162)" filter="url(#nT)"/>
<g clip-path="url(#cT)"><path d="M1874.2 652.6 C1876.1 655.1 1882.6 663.0 1885.5 667.6 C1888.4 672.2 1889.3 675.2 1891.8 680.2 C1894.3 685.2 1896.8 690.3 1900.6 697.8 C1904.4 705.3 1911.7 714.9 1914.4 725.4 C1917.1 735.9 1917.3 747.1 1916.9 760.5 C1916.5 773.9 1913.0 794.4 1911.9 805.7 C1910.9 817.0 1910.8 824.5 1910.6 828.2" fill="none" stroke="#141414" stroke-width="2.2" opacity="0.85" stroke-linecap="round" filter="url(#bl0)"/>
<path d="M1896.0 652.6 C1895.3 655.5 1893.5 663.9 1891.8 670.2 C1890.0 676.5 1887.0 682.7 1885.5 690.2 C1884.0 697.7 1882.4 705.2 1883.0 715.3 C1883.6 725.3 1886.4 738.8 1889.3 750.5 C1892.2 762.2 1897.0 773.9 1900.6 785.6 C1904.1 797.3 1908.9 814.9 1910.6 820.7" fill="none" stroke="#141414" stroke-width="2.2" opacity="0.85" stroke-linecap="round" filter="url(#bl0)"/>
<path d="M1891.8 672.7 C1892.2 678.1 1894.5 695.7 1894.3 705.3 C1894.1 714.9 1891.5 725.0 1890.5 730.4 C1889.5 735.8 1888.4 736.6 1888.0 737.9" fill="none" stroke="#141414" stroke-width="2.2" opacity="0.85" stroke-linecap="round" filter="url(#bl0)"/>
<circle cx="1914.4" cy="725.4" r="2.6" fill="#151515" opacity="0.85"/>
<circle cx="1900.1" cy="698.3" r="1.9" fill="#151515" opacity="0.85"/>
<circle cx="1918.1" cy="746.7" r="1.8" fill="#151515" opacity="0.85"/>
<circle cx="1887.5" cy="726.6" r="1.5" fill="#151515" opacity="0.85"/></g>
<rect x="1853" y="636.8" width="92.8" height="201.9" fill="none" stroke="#0d0d0d" stroke-width="1.45" stroke-linejoin="round"/>
</svg>
</body></html>
